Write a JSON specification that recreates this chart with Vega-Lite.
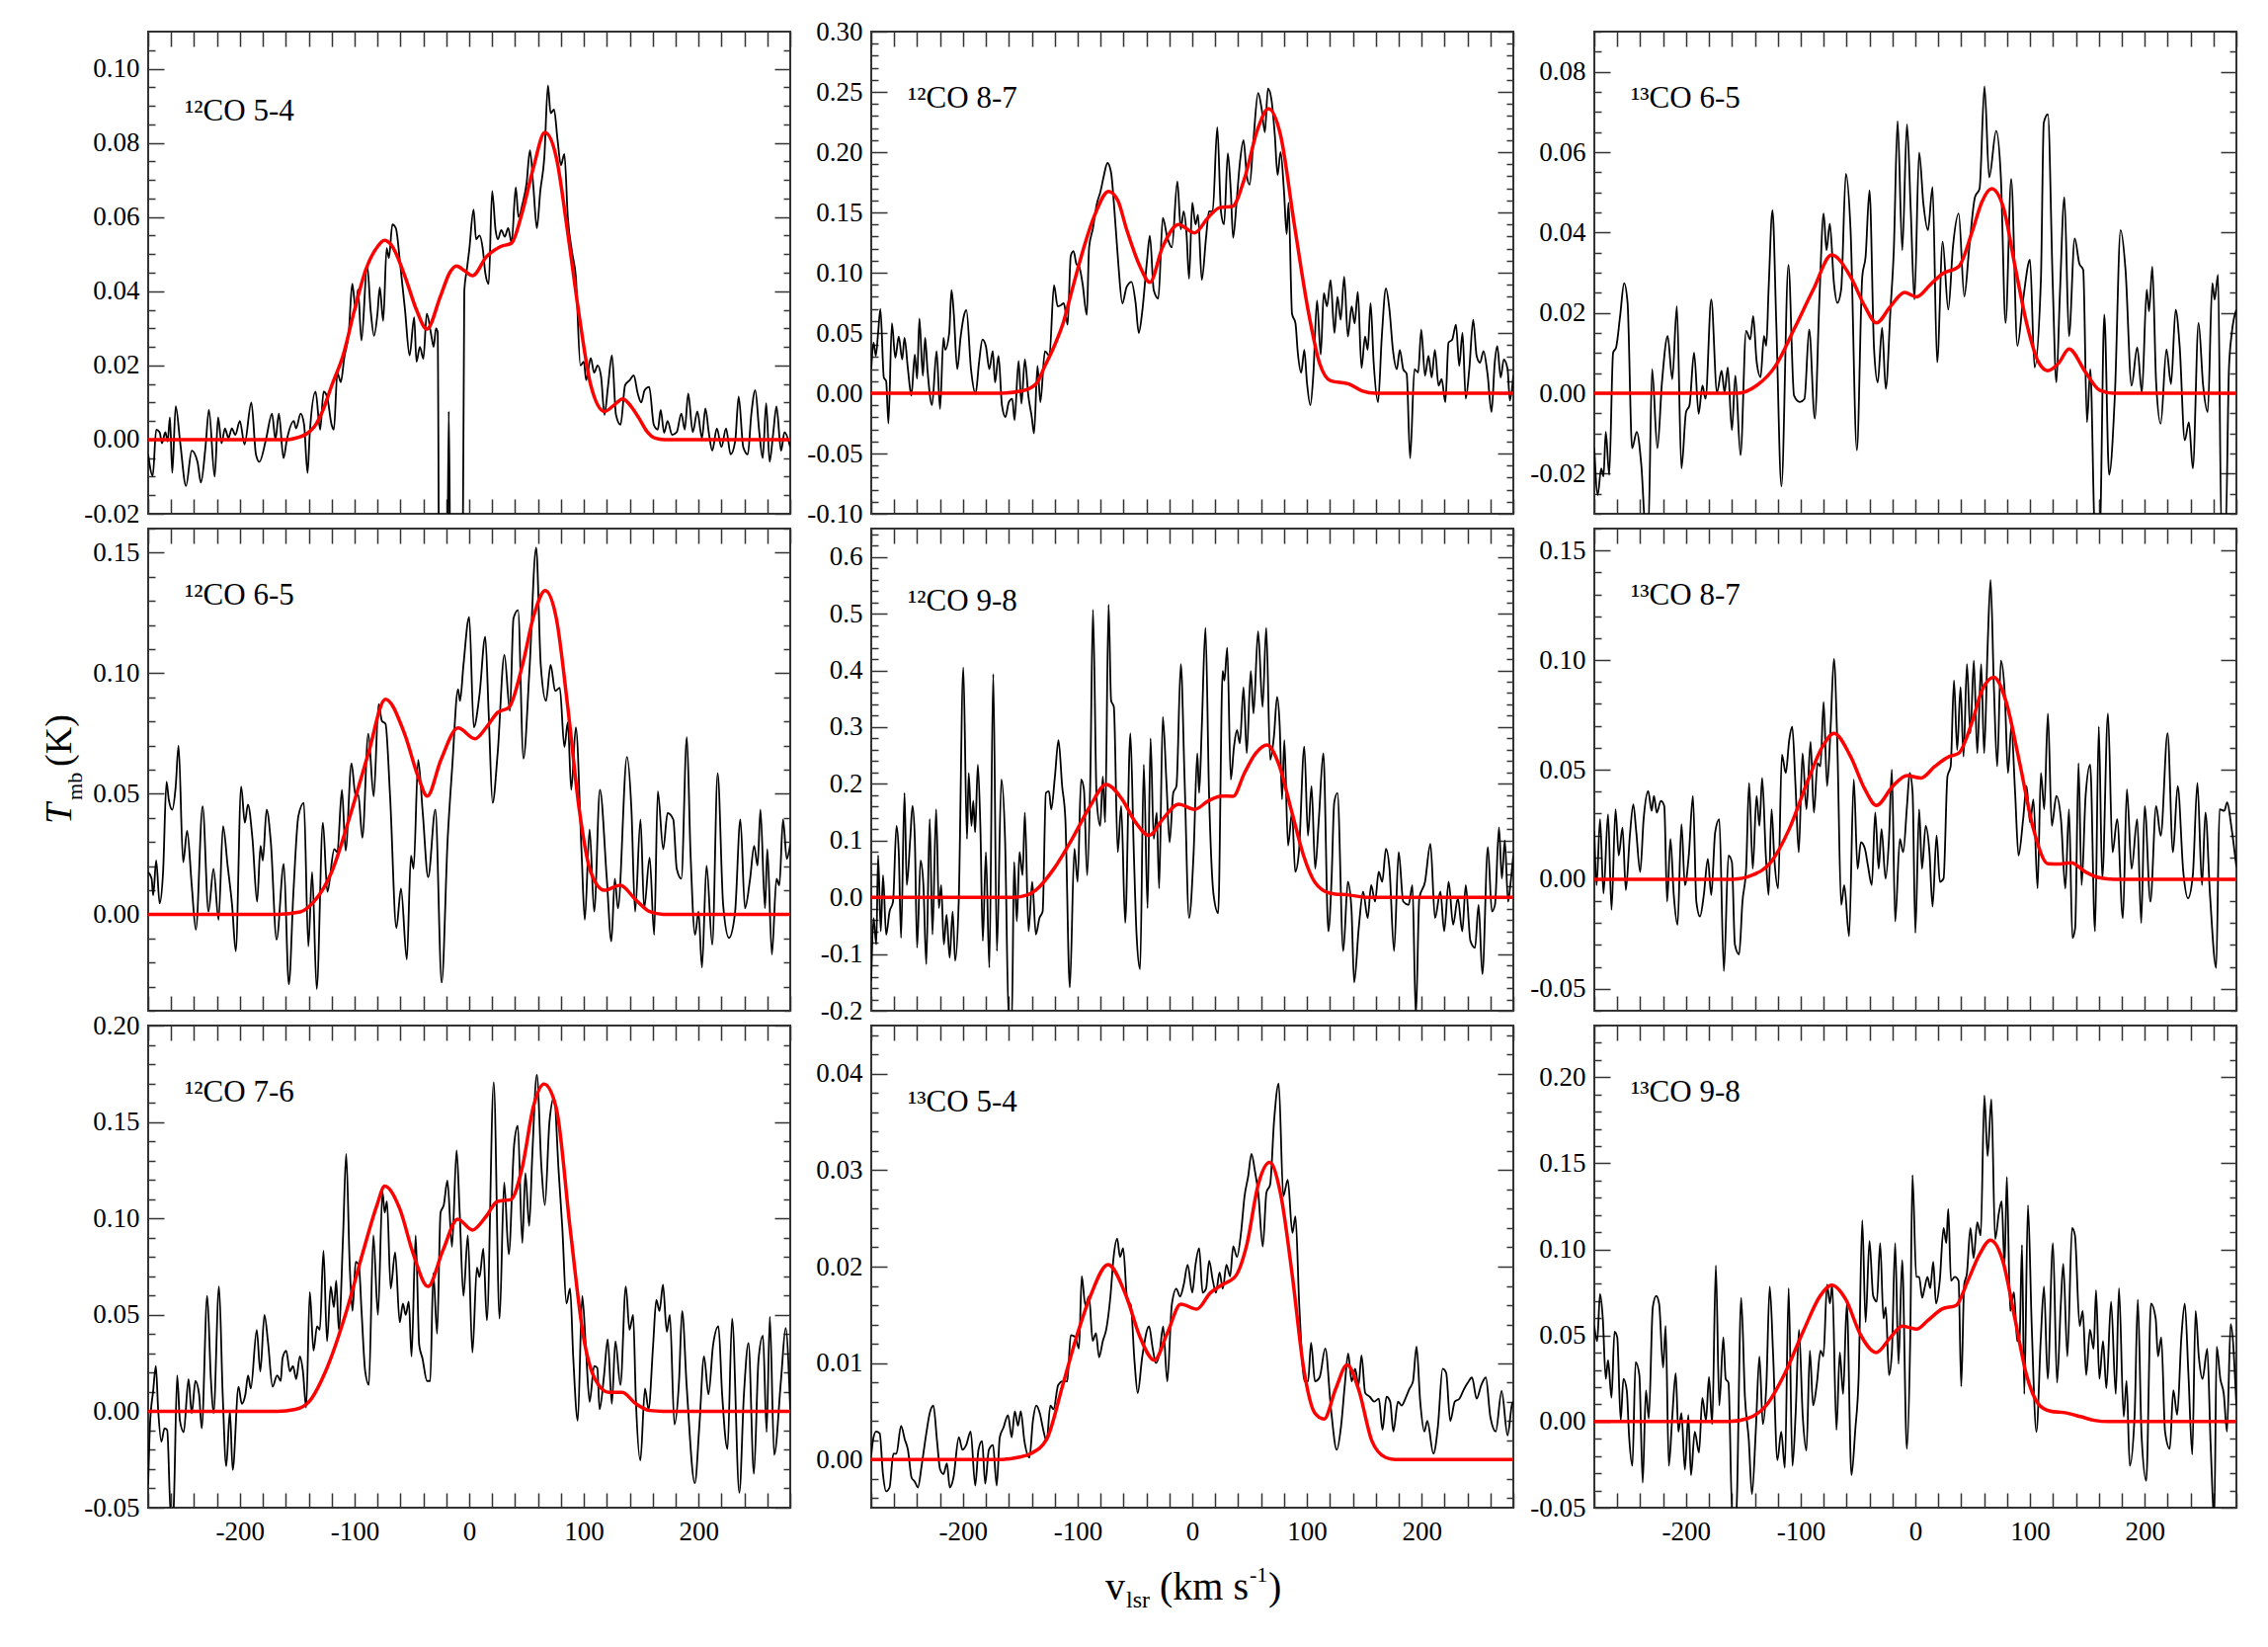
{
"$schema":"https://vega.github.io/schema/vega-lite/v6.json",
"padding":{"left":40,"top":17,"right":5,"bottom":5},
"background":"white",
"bounds":"flush",
"columns":3,
"spacing":{"row":15,"column":82},
"config":{
 "view":{"stroke":"#333","strokeWidth":2},
 "font":"Liberation Serif",
 "axis":{"labelFont":"Liberation Serif","labelFontSize":27,"labelColor":"#000","tickColor":"#333","tickWidth":1.5,"domain":false,"grid":false,"labelOverlap":false,"labelFlush":false},
 "title":{"font":"Liberation Serif","fontSize":31,"fontWeight":"normal","color":"#000"}
},
"datasets":{
"b1":[{"v":-280,"t":-0.004},{"v":-276,"t":-0.0098},{"v":-273,"t":0.0027},{"v":-270,"t":0.002},{"v":-268,"t":-0.001},{"v":-265,"t":0.002},{"v":-263,"t":-0.0005},{"v":-261,"t":0.006},{"v":-259,"t":-0.009},{"v":-256,"t":0.009},{"v":-252,"t":-0.001},{"v":-247,"t":-0.0125},{"v":-242,"t":-0.003},{"v":-237,"t":-0.006},{"v":-234,"t":-0.0116},{"v":-230,"t":-0.002},{"v":-227,"t":0.008},{"v":-222,"t":-0.01},{"v":-219,"t":0.006},{"v":-216,"t":-0.001},{"v":-213,"t":0.003},{"v":-210,"t":0.0004},{"v":-207,"t":0.003},{"v":-204,"t":0.0013},{"v":-200,"t":0.005},{"v":-196,"t":-0.0013},{"v":-190,"t":0.01},{"v":-186,"t":-0.004},{"v":-183,"t":-0.006},{"v":-177,"t":0.0004},{"v":-172,"t":0.007},{"v":-169,"t":0},{"v":-166,"t":0.007},{"v":-162,"t":-0.005},{"v":-159,"t":0},{"v":-153,"t":0.005},{"v":-151,"t":0.003},{"v":-147,"t":0.007},{"v":-144,"t":0.004},{"v":-141,"t":-0.009},{"v":-139,"t":0.002},{"v":-134,"t":0.0129},{"v":-130,"t":0.0027},{"v":-127,"t":0.0129},{"v":-124,"t":0.0116},{"v":-120,"t":0.004},{"v":-118,"t":0.0027},{"v":-115,"t":0.018},{"v":-112,"t":0.0155},{"v":-109,"t":0.022},{"v":-105,"t":0.029},{"v":-102,"t":0.042},{"v":-99,"t":0.035},{"v":-97,"t":0.0405},{"v":-94,"t":0.0267},{"v":-89,"t":0.047},{"v":-86,"t":0.035},{"v":-83,"t":0.028},{"v":-80,"t":0.034},{"v":-78,"t":0.041},{"v":-75,"t":0.032},{"v":-72,"t":0.0516},{"v":-70,"t":0.049},{"v":-67,"t":0.058},{"v":-64,"t":0.057},{"v":-60,"t":0.0467},{"v":-56,"t":0.035},{"v":-52,"t":0.0227},{"v":-48,"t":0.033},{"v":-46,"t":0.021},{"v":-43,"t":0.025},{"v":-40,"t":0.0218},{"v":-37,"t":0.034},{"v":-33,"t":0.028},{"v":-31,"t":0.025},{"v":-29,"t":0.03},{"v":-27.5,"t":0.029},{"v":-26,"t":-0.05},{"v":-19.5,"t":-0.05},{"v":-17.8,"t":0.0076},{"v":-16,"t":-0.05},{"v":-6,"t":-0.05},{"v":-4.3,"t":0.04},{"v":-2,"t":0.046},{"v":0,"t":0.051},{"v":3.8,"t":0.062},{"v":6,"t":0.054},{"v":9,"t":0.055},{"v":12,"t":0.051},{"v":14,"t":0.045},{"v":17,"t":0.042},{"v":20,"t":0.067},{"v":23,"t":0.0565},{"v":25,"t":0.054},{"v":28,"t":0.0565},{"v":31,"t":0.0547},{"v":34,"t":0.057},{"v":37,"t":0.053},{"v":40.6,"t":0.068},{"v":43,"t":0.06},{"v":46.5,"t":0.0636},{"v":50,"t":0.069},{"v":53,"t":0.078},{"v":56,"t":0.068},{"v":59,"t":0.057},{"v":62,"t":0.067},{"v":65.5,"t":0.076},{"v":68.7,"t":0.0955},{"v":71,"t":0.088},{"v":74,"t":0.089},{"v":77,"t":0.081},{"v":80,"t":0.074},{"v":83,"t":0.077},{"v":86,"t":0.06},{"v":90,"t":0.05},{"v":93,"t":0.044},{"v":97,"t":0.02},{"v":100,"t":0.021},{"v":102,"t":0.016},{"v":106,"t":0.022},{"v":109,"t":0.018},{"v":112,"t":0.02},{"v":115,"t":0.017},{"v":118,"t":0.0067},{"v":121,"t":0.0142},{"v":124.5,"t":0.0227},{"v":128,"t":0.0067},{"v":132,"t":0.004},{"v":136,"t":0.0147},{"v":140,"t":0.016},{"v":143.5,"t":0.0173},{"v":147,"t":0.0124},{"v":150,"t":0.01},{"v":153,"t":0.0133},{"v":157,"t":0.0142},{"v":161,"t":0.004},{"v":164.5,"t":0.0027},{"v":167,"t":0.008},{"v":170,"t":0.0018},{"v":173,"t":0.005},{"v":177,"t":0.0013},{"v":181,"t":0.002},{"v":185,"t":0.007},{"v":188,"t":0.0027},{"v":191,"t":0.0124},{"v":195,"t":0.002},{"v":199,"t":0.0076},{"v":203,"t":0.0004},{"v":206,"t":0.0084},{"v":209,"t":0.0018},{"v":212,"t":-0.003},{"v":216,"t":0.003},{"v":220,"t":-0.002},{"v":224,"t":0.003},{"v":228,"t":-0.004},{"v":232,"t":-0.0004},{"v":235,"t":0.0116},{"v":239,"t":-0.002},{"v":243,"t":-0.004},{"v":246,"t":0.0067},{"v":249.5,"t":0.0133},{"v":253,"t":0.002},{"v":256,"t":-0.005},{"v":259,"t":0.0098},{"v":262,"t":-0.006},{"v":265,"t":0.0013},{"v":268,"t":0.0089},{"v":272,"t":-0.003},{"v":275,"t":0.002},{"v":280,"t":-0.002}],
"m1":[{"v":-280,"t":0},{"v":-158,"t":0},{"v":-150,"t":0.0005},{"v":-142,"t":0.0015},{"v":-135,"t":0.0035},{"v":-128,"t":0.0076},{"v":-120,"t":0.0145},{"v":-110,"t":0.0227},{"v":-100,"t":0.035},{"v":-90,"t":0.046},{"v":-80,"t":0.052},{"v":-74,"t":0.0537},{"v":-68,"t":0.0525},{"v":-56,"t":0.044},{"v":-46,"t":0.035},{"v":-37,"t":0.0298},{"v":-25,"t":0.0387},{"v":-17,"t":0.045},{"v":-11,"t":0.0468},{"v":-4,"t":0.0455},{"v":3,"t":0.0442},{"v":15,"t":0.0493},{"v":27,"t":0.052},{"v":37,"t":0.053},{"v":46,"t":0.061},{"v":56,"t":0.0733},{"v":66,"t":0.0828},{"v":76,"t":0.076},{"v":86,"t":0.0556},{"v":96,"t":0.0333},{"v":106,"t":0.0147},{"v":118,"t":0.0076},{"v":126,"t":0.0092},{"v":134,"t":0.011},{"v":141,"t":0.009},{"v":148,"t":0.0058},{"v":155,"t":0.0022},{"v":162,"t":0.0004},{"v":170,"t":0},{"v":280,"t":0}],
"b2":[{"v":-280,"t":0.02},{"v":-278,"t":0.042},{"v":-276,"t":0.031},{"v":-274,"t":0.05},{"v":-272,"t":0.07},{"v":-269,"t":0.013},{"v":-267,"t":0.01},{"v":-265,"t":-0.025},{"v":-262,"t":0.058},{"v":-259,"t":0.0295},{"v":-256,"t":0.047},{"v":-253,"t":0.028},{"v":-251,"t":0.046},{"v":-248,"t":0.02},{"v":-245,"t":-0.002},{"v":-242,"t":0.032},{"v":-240,"t":0.012},{"v":-238,"t":0.062},{"v":-235,"t":0.0145},{"v":-233,"t":0.046},{"v":-231,"t":0.02},{"v":-227,"t":-0.01},{"v":-223,"t":0.035},{"v":-220,"t":-0.013},{"v":-217,"t":0.046},{"v":-215.5,"t":0.036},{"v":-212,"t":0.05},{"v":-210,"t":0.0855},{"v":-208,"t":0.066},{"v":-205,"t":0.02},{"v":-202,"t":0.047},{"v":-199,"t":0.065},{"v":-197,"t":0.069},{"v":-193,"t":0.02},{"v":-189,"t":-0.0005},{"v":-186,"t":0.0254},{"v":-183,"t":0.0445},{"v":-180,"t":0.039},{"v":-177,"t":0.02},{"v":-174,"t":0.035},{"v":-172,"t":0.009},{"v":-169,"t":0.031},{"v":-166,"t":-0.01},{"v":-163,"t":-0.0197},{"v":-160,"t":-0.0074},{"v":-157,"t":-0.0046},{"v":-155,"t":-0.0224},{"v":-151.5,"t":0.0268},{"v":-149,"t":-0.0087},{"v":-146,"t":0.028},{"v":-143,"t":-0.002},{"v":-140,"t":-0.0197},{"v":-138,"t":-0.0333},{"v":-135,"t":0.0227},{"v":-132.5,"t":-0.0074},{"v":-128.5,"t":0.035},{"v":-124.6,"t":0.031},{"v":-120.6,"t":0.0896},{"v":-117.4,"t":0.072},{"v":-114.7,"t":0.073},{"v":-112,"t":0.0746},{"v":-108.7,"t":0.0568},{"v":-106,"t":0.114},{"v":-103.6,"t":0.118},{"v":-101,"t":0.107},{"v":-98.5,"t":0.1046},{"v":-95.7,"t":0.091},{"v":-92,"t":0.065},{"v":-90,"t":0.121},{"v":-86.6,"t":0.137},{"v":-83.4,"t":0.1565},{"v":-80,"t":0.1675},{"v":-77,"t":0.181},{"v":-74,"t":0.191},{"v":-71,"t":0.184},{"v":-67,"t":0.14},{"v":-64.5,"t":0.1074},{"v":-61,"t":0.0746},{"v":-57.3,"t":0.088},{"v":-53,"t":0.0923},{"v":-49.4,"t":0.0746},{"v":-46.7,"t":0.05},{"v":-43.5,"t":0.069},{"v":-39.5,"t":0.11},{"v":-37,"t":0.1306},{"v":-33.6,"t":0.0855},{"v":-29.6,"t":0.0787},{"v":-25.7,"t":0.1456},{"v":-21.7,"t":0.129},{"v":-17.8,"t":0.121},{"v":-13,"t":0.1757},{"v":-10,"t":0.136},{"v":-7.5,"t":0.151},{"v":-5,"t":0.132},{"v":-2.8,"t":0.095},{"v":0,"t":0.158},{"v":2.8,"t":0.14},{"v":5,"t":0.148},{"v":8.3,"t":0.094},{"v":12,"t":0.129},{"v":14.6,"t":0.151},{"v":17.8,"t":0.151},{"v":21.8,"t":0.2207},{"v":25,"t":0.151},{"v":27.7,"t":0.14},{"v":31,"t":0.199},{"v":33.6,"t":0.1675},{"v":35.6,"t":0.129},{"v":38.8,"t":0.1606},{"v":41.6,"t":0.192},{"v":44.7,"t":0.21},{"v":47.5,"t":0.181},{"v":50,"t":0.173},{"v":53.4,"t":0.211},{"v":57.4,"t":0.249},{"v":60.5,"t":0.236},{"v":63.3,"t":0.2166},{"v":66,"t":0.2527},{"v":69,"t":0.244},{"v":72,"t":0.214},{"v":74.4,"t":0.181},{"v":77,"t":0.2},{"v":80,"t":0.1675},{"v":82.3,"t":0.132},{"v":84,"t":0.158},{"v":87,"t":0.066},{"v":90,"t":0.058},{"v":92,"t":0.034},{"v":95,"t":0.017},{"v":97.7,"t":0.036},{"v":100,"t":0.009},{"v":103,"t":-0.01},{"v":105.6,"t":0.016},{"v":108.8,"t":0.077},{"v":112,"t":0.032},{"v":114.7,"t":0.083},{"v":117.5,"t":0.072},{"v":120.6,"t":0.094},{"v":124,"t":0.05},{"v":126.6,"t":0.08},{"v":129.4,"t":0.061},{"v":132.5,"t":0.0965},{"v":135.7,"t":0.047},{"v":139,"t":0.072},{"v":141.6,"t":0.058},{"v":144.4,"t":0.084},{"v":147.6,"t":0.021},{"v":150.7,"t":0.047},{"v":153,"t":0.036},{"v":155.5,"t":0.0746},{"v":158.2,"t":0.0254},{"v":162,"t":-0.0074},{"v":165.3,"t":0.047},{"v":168.9,"t":0.0869},{"v":172,"t":0.069},{"v":175,"t":0.036},{"v":178.4,"t":0.02},{"v":181,"t":0.036},{"v":184,"t":0.02},{"v":187,"t":0.016},{"v":190,"t":-0.054},{"v":193.8,"t":0.02},{"v":197,"t":0.0172},{"v":199.7,"t":0.0527},{"v":203,"t":0.0145},{"v":206,"t":0.031},{"v":208.8,"t":0.013},{"v":211.6,"t":0.036},{"v":214.8,"t":0.0063},{"v":217.5,"t":0.0117},{"v":220.7,"t":-0.0074},{"v":223.5,"t":0.042},{"v":226.7,"t":0.0445},{"v":230,"t":0.0568},{"v":232.8,"t":0.0227},{"v":235.7,"t":0.05},{"v":238.5,"t":-0.0046},{"v":241.6,"t":0.02},{"v":245,"t":0.061},{"v":248,"t":0.031},{"v":251,"t":0.0254},{"v":254,"t":0.035},{"v":257.5,"t":0.016},{"v":261,"t":-0.0156},{"v":263.8,"t":0.0254},{"v":266,"t":0.039},{"v":269,"t":0.013},{"v":271.7,"t":0.028},{"v":275,"t":0.02},{"v":277,"t":-0.006},{"v":280,"t":0.0145}],
"m2":[{"v":-280,"t":0},{"v":-168,"t":0},{"v":-148,"t":0.002},{"v":-136,"t":0.008},{"v":-128.5,"t":0.0227},{"v":-120,"t":0.04},{"v":-112.7,"t":0.058},{"v":-105,"t":0.085},{"v":-97,"t":0.113},{"v":-85,"t":0.148},{"v":-73,"t":0.1675},{"v":-65,"t":0.16},{"v":-57,"t":0.135},{"v":-45.5,"t":0.105},{"v":-37,"t":0.092},{"v":-26,"t":0.121},{"v":-12,"t":0.14},{"v":2,"t":0.133},{"v":14,"t":0.146},{"v":24,"t":0.154},{"v":35,"t":0.155},{"v":45.5,"t":0.178},{"v":57,"t":0.219},{"v":66.5,"t":0.236},{"v":77,"t":0.214},{"v":89,"t":0.14},{"v":101,"t":0.069},{"v":111,"t":0.025},{"v":120.6,"t":0.0104},{"v":136.5,"t":0.0077},{"v":148,"t":0.002},{"v":160,"t":0},{"v":280,"t":0}],
"b3":[{"v":-280,"t":-0.0137},{"v":-277,"t":-0.0253},{"v":-274,"t":-0.0187},{"v":-272,"t":-0.0207},{"v":-270,"t":-0.0096},{"v":-267,"t":-0.0203},{"v":-263.6,"t":0.0101},{"v":-261,"t":0.0114},{"v":-257.5,"t":0.0192},{"v":-254,"t":0.0274},{"v":-251,"t":0.0225},{"v":-247,"t":-0.0137},{"v":-243,"t":-0.0096},{"v":-239,"t":-0.0179},{"v":-235,"t":-0.035},{"v":-233,"t":-0.035},{"v":-229.6,"t":0.006},{"v":-225,"t":-0.0137},{"v":-221,"t":0.0027},{"v":-216,"t":0.0142},{"v":-212,"t":0.0035},{"v":-208,"t":0.0216},{"v":-204,"t":-0.0187},{"v":-200,"t":-0.0047},{"v":-197,"t":-0.003},{"v":-193,"t":0.0101},{"v":-189,"t":-0.0051},{"v":-185.7,"t":0.0019},{"v":-183,"t":-0.0014},{"v":-178,"t":0.0233},{"v":-173,"t":0.0002},{"v":-169,"t":0.0056},{"v":-166.4,"t":0.0002},{"v":-163.6,"t":0.0064},{"v":-160,"t":-0.0092},{"v":-157,"t":0.0044},{"v":-152.5,"t":-0.0154},{"v":-147.6,"t":0.0155},{"v":-144,"t":0.0134},{"v":-141.4,"t":0.0192},{"v":-138.5,"t":0.0081},{"v":-135,"t":0.004},{"v":-132,"t":0.0142},{"v":-130,"t":0.0118},{"v":-128,"t":0.0258},{"v":-124.6,"t":0.0455},{"v":-121.3,"t":0.0175},{"v":-116.8,"t":-0.0232},{"v":-110.7,"t":0.0319},{"v":-105.8,"t":-0.0006},{"v":-100.8,"t":-0.0022},{"v":-96.7,"t":-0.0014},{"v":-92.6,"t":0.0159},{"v":-87.7,"t":-0.0063},{"v":-83.6,"t":0.0241},{"v":-80,"t":0.0447},{"v":-77.5,"t":0.0356},{"v":-74.6,"t":0.0422},{"v":-71,"t":0.0274},{"v":-68,"t":0.0225},{"v":-64.7,"t":0.0258},{"v":-60.6,"t":0.0546},{"v":-56.5,"t":0.0406},{"v":-51,"t":-0.0142},{"v":-46.3,"t":0.029},{"v":-43.4,"t":0.034},{"v":-40,"t":0.0505},{"v":-36,"t":0.0109},{"v":-32.8,"t":0.0027},{"v":-29,"t":0.0163},{"v":-25.8,"t":0.0011},{"v":-21.7,"t":0.0208},{"v":-18.8,"t":0.0356},{"v":-15.5,"t":0.0677},{"v":-11.4,"t":0.0356},{"v":-7.3,"t":0.0669},{"v":-4,"t":0.0455},{"v":-0.8,"t":0.0233},{"v":3.3,"t":0.0599},{"v":7,"t":0.0472},{"v":11,"t":0.0406},{"v":15,"t":0.0513},{"v":19,"t":0.0077},{"v":23.8,"t":0.0377},{"v":28.7,"t":0.0208},{"v":32.8,"t":0.0365},{"v":37.8,"t":0.0447},{"v":42.7,"t":0.0241},{"v":46.8,"t":0.0356},{"v":52,"t":0.0488},{"v":56,"t":0.0509},{"v":60.3,"t":0.0764},{"v":64.4,"t":0.0537},{"v":70.5,"t":0.0653},{"v":74.6,"t":0.0537},{"v":78.7,"t":0.0175},{"v":83.6,"t":0.0533},{"v":89,"t":0.0118},{"v":94,"t":0.0233},{"v":100,"t":0.0332},{"v":104,"t":0.0064},{"v":109.5,"t":0.0282},{"v":112,"t":0.0673},{"v":115.6,"t":0.0694},{"v":119.8,"t":0.0274},{"v":123,"t":0.0027},{"v":126,"t":0.0241},{"v":130,"t":0.0488},{"v":134,"t":0.0142},{"v":139,"t":0.0385},{"v":143,"t":0.0323},{"v":146.4,"t":0.0307},{"v":149.7,"t":-0.0072},{"v":152.6,"t":0.006},{"v":156.7,"t":-0.035},{"v":160.8,"t":-0.035},{"v":164.8,"t":0.0196},{"v":169,"t":-0.0203},{"v":174,"t":-0.0006},{"v":179,"t":0.0406},{"v":183.3,"t":0.0307},{"v":188.6,"t":0.0019},{"v":193.5,"t":0.0114},{"v":197.6,"t":0.0002},{"v":201.8,"t":0.0258},{"v":203.8,"t":0.0204},{"v":206.7,"t":0.0315},{"v":210,"t":0.0027},{"v":214,"t":-0.0076},{"v":219,"t":0.0109},{"v":223,"t":0.0023},{"v":227,"t":0.0208},{"v":230.5,"t":0.0118},{"v":235,"t":-0.0117},{"v":238.6,"t":-0.0072},{"v":242,"t":-0.0187},{"v":247,"t":0.0175},{"v":251,"t":0.0019},{"v":255,"t":-0.0047},{"v":259,"t":0.0274},{"v":261,"t":0.0233},{"v":264,"t":0.0295},{"v":267,"t":-0.035},{"v":270.6,"t":-0.035},{"v":273.5,"t":0.006},{"v":276,"t":0.015},{"v":280,"t":0.0208}],
"m3":[{"v":-280,"t":0},{"v":-155,"t":0},{"v":-138.5,"t":0.0019},{"v":-122,"t":0.0068},{"v":-105.8,"t":0.0159},{"v":-89,"t":0.0258},{"v":-73,"t":0.0344},{"v":-56.5,"t":0.029},{"v":-44,"t":0.0216},{"v":-34,"t":0.0175},{"v":-21.7,"t":0.0216},{"v":-9.4,"t":0.0251},{"v":1,"t":0.024},{"v":13,"t":0.027},{"v":23.4,"t":0.0297},{"v":37.8,"t":0.0315},{"v":50,"t":0.0406},{"v":58,"t":0.0476},{"v":66.5,"t":0.0509},{"v":76.7,"t":0.0463},{"v":87,"t":0.0315},{"v":97,"t":0.0175},{"v":107.5,"t":0.0077},{"v":115.6,"t":0.0056},{"v":125,"t":0.0075},{"v":134,"t":0.011},{"v":148.5,"t":0.0052},{"v":161,"t":0.0007},{"v":173,"t":0},{"v":280,"t":0}],
"b4":[{"v":-280,"t":0.0175},{"v":-277,"t":0.0148},{"v":-275.6,"t":0.0079},{"v":-273,"t":0.0223},{"v":-270,"t":0.0045},{"v":-267,"t":0.0175},{"v":-264,"t":0.055},{"v":-262,"t":0.0475},{"v":-259,"t":0.0434},{"v":-256,"t":0.053},{"v":-253.5,"t":0.07},{"v":-249.5,"t":0.0216},{"v":-246,"t":0.0346},{"v":-242,"t":0.012},{"v":-238.4,"t":-0.0064},{"v":-232.5,"t":0.0448},{"v":-227.4,"t":0.0011},{"v":-223,"t":0.0189},{"v":-218.6,"t":-0.0023},{"v":-214.7,"t":0.0366},{"v":-210.7,"t":0.0202},{"v":-206.8,"t":0.0038},{"v":-203.6,"t":-0.0153},{"v":-198.9,"t":0.053},{"v":-195.7,"t":0.038},{"v":-193,"t":0.0455},{"v":-189,"t":0.0311},{"v":-185,"t":0.0052},{"v":-182,"t":0.0284},{"v":-180,"t":0.0223},{"v":-176.7,"t":0.0434},{"v":-173,"t":0.0298},{"v":-168,"t":-0.0105},{"v":-161.7,"t":0.0209},{"v":-157.3,"t":-0.029},{"v":-153.3,"t":0.0093},{"v":-149,"t":0.0407},{"v":-144.2,"t":0.0462},{"v":-140.3,"t":-0.0133},{"v":-137,"t":0.0175},{"v":-133,"t":-0.031},{"v":-127.6,"t":0.038},{"v":-123.7,"t":0.0093},{"v":-117.7,"t":0.027},{"v":-115,"t":0.0257},{"v":-111,"t":0.0516},{"v":-107.8,"t":0.0264},{"v":-102.7,"t":0.0626},{"v":-99,"t":0.0489},{"v":-96.7,"t":0.0496},{"v":-93.2,"t":0.0318},{"v":-88,"t":0.0749},{"v":-83.3,"t":0.0489},{"v":-79,"t":0.0872},{"v":-76.2,"t":0.0803},{"v":-73,"t":0.079},{"v":-69,"t":0.0489},{"v":-63.5,"t":-0.0057},{"v":-59.5,"t":0.0107},{"v":-54.4,"t":-0.0187},{"v":-50.8,"t":0.0243},{"v":-48.5,"t":0.0189},{"v":-44.5,"t":0.064},{"v":-40.5,"t":0.042},{"v":-35.8,"t":0.0154},{"v":-29.5,"t":0.0434},{"v":-24,"t":-0.0283},{"v":-18.8,"t":0.0311},{"v":-14.8,"t":0.0612},{"v":-9.7,"t":0.0933},{"v":-8,"t":0.0885},{"v":-5,"t":0.1035},{"v":0,"t":0.1234},{"v":4,"t":0.0776},{"v":9,"t":0.0912},{"v":14,"t":0.1152},{"v":17,"t":0.0831},{"v":20.4,"t":0.0462},{"v":24.8,"t":0.0667},{"v":30.7,"t":0.1076},{"v":35.5,"t":0.0844},{"v":38.6,"t":0.1227},{"v":42.6,"t":0.1261},{"v":47.3,"t":0.0646},{"v":52.5,"t":0.1008},{"v":58.4,"t":0.152},{"v":62.4,"t":0.1035},{"v":67,"t":0.0885},{"v":71,"t":0.1035},{"v":75,"t":0.0926},{"v":79,"t":0.094},{"v":83,"t":0.0694},{"v":86,"t":0.0796},{"v":89,"t":0.0516},{"v":93,"t":0.0776},{"v":98,"t":0.0257},{"v":100.8,"t":-0.0023},{"v":105,"t":0.0352},{"v":109,"t":0.0011},{"v":114,"t":0.0516},{"v":120,"t":0.0148},{"v":124,"t":-0.0112},{"v":127,"t":0.0148},{"v":129.7,"t":0.0025},{"v":137.6,"t":0.0653},{"v":141.5,"t":0.0434},{"v":144.7,"t":0.0011},{"v":149.4,"t":0.0393},{"v":152.6,"t":0.0025},{"v":157.4,"t":0.0236},{"v":161.3,"t":-0.0085},{"v":164.5,"t":0.051},{"v":169.2,"t":0.027},{"v":173,"t":0.042},{"v":178,"t":0.0393},{"v":181,"t":0.0189},{"v":185,"t":0.0148},{"v":189.8,"t":0.0735},{"v":193,"t":0.0257},{"v":197,"t":-0.0085},{"v":200,"t":0.0011},{"v":203,"t":-0.0221},{"v":207,"t":0.0202},{"v":212,"t":-0.0126},{"v":216.7,"t":0.0585},{"v":221.5,"t":0.0038},{"v":226.6,"t":-0.0098},{"v":231.8,"t":0.0004},{"v":236.5,"t":0.0393},{"v":240.5,"t":0.0025},{"v":245,"t":0.0148},{"v":248.5,"t":0.0284},{"v":251.5,"t":0.0202},{"v":254,"t":0.0434},{"v":258,"t":0.0025},{"v":260,"t":0.027},{"v":264,"t":-0.0167},{"v":268,"t":0.0148},{"v":270.5,"t":0.012},{"v":273.7,"t":0.0393},{"v":277,"t":0.023},{"v":280,"t":0.029}],
"m4":[{"v":-280,"t":0},{"v":-167,"t":0},{"v":-147.4,"t":0.001},{"v":-135.5,"t":0.0052},{"v":-120,"t":0.0175},{"v":-104,"t":0.0407},{"v":-88,"t":0.0667},{"v":-73,"t":0.0892},{"v":-56.4,"t":0.0749},{"v":-44.5,"t":0.0571},{"v":-36.6,"t":0.049},{"v":-24.7,"t":0.064},{"v":-9.7,"t":0.0773},{"v":5,"t":0.0728},{"v":15,"t":0.0776},{"v":24.8,"t":0.0837},{"v":34.7,"t":0.0858},{"v":46.5,"t":0.1035},{"v":56.4,"t":0.124},{"v":66.3,"t":0.1343},{"v":76,"t":0.1227},{"v":86,"t":0.0858},{"v":96,"t":0.0434},{"v":106,"t":0.0175},{"v":117.8,"t":0.01},{"v":131.6,"t":0.012},{"v":145.5,"t":0.0059},{"v":157.4,"t":0.0011},{"v":169,"t":0},{"v":280,"t":0}],
"b5":[{"v":-280,"t":-0.147},{"v":-278,"t":-0.0366},{"v":-275.6,"t":-0.083},{"v":-274,"t":0.074},{"v":-271.7,"t":-0.06},{"v":-269.7,"t":0.039},{"v":-267,"t":-0.066},{"v":-264,"t":-0.025},{"v":-261,"t":-0.0076},{"v":-258,"t":0.126},{"v":-256,"t":0.0797},{"v":-254,"t":-0.0715},{"v":-251,"t":0.184},{"v":-249,"t":0.0215},{"v":-246,"t":0.103},{"v":-244,"t":0.161},{"v":-242,"t":0.103},{"v":-240,"t":-0.089},{"v":-237,"t":0.065},{"v":-234.5,"t":0.0215},{"v":-232,"t":-0.118},{"v":-229,"t":0.138},{"v":-226.6,"t":-0.0657},{"v":-223.4,"t":0.155},{"v":-221,"t":-0.0192},{"v":-219,"t":0.0215},{"v":-216.7,"t":-0.083},{"v":-214.3,"t":-0.031},{"v":-211.6,"t":-0.1064},{"v":-209,"t":-0.025},{"v":-206.8,"t":-0.112},{"v":-203.7,"t":-0.0076},{"v":-199.7,"t":0.405},{"v":-196.5,"t":0.103},{"v":-195,"t":0.219},{"v":-192.6,"t":0.126},{"v":-191,"t":0.17},{"v":-189.4,"t":0.1145},{"v":-187,"t":0.2337},{"v":-184.7,"t":0.1145},{"v":-182.7,"t":-0.077},{"v":-180,"t":0.0797},{"v":-177,"t":-0.124},{"v":-173.6,"t":0.3936},{"v":-170.4,"t":-0.0948},{"v":-166.5,"t":0.2076},{"v":-163.3,"t":0.103},{"v":-160,"t":-0.22},{"v":-157.4,"t":-0.22},{"v":-155.4,"t":0.0622},{"v":-153,"t":-0.0424},{"v":-150.7,"t":0.0797},{"v":-148,"t":0.039},{"v":-146,"t":0.1494},{"v":-142.8,"t":-0.06},{"v":-139.6,"t":0.0273},{"v":-136.4,"t":-0.0657},{"v":-133.3,"t":-0.0366},{"v":-130.5,"t":-0.025},{"v":-127.7,"t":0.184},{"v":-125,"t":0.187},{"v":-123,"t":0.155},{"v":-119.8,"t":0.213},{"v":-116.7,"t":0.277},{"v":-113.5,"t":0.196},{"v":-110.7,"t":0.138},{"v":-106.8,"t":-0.159},{"v":-102.8,"t":0.0855},{"v":-100,"t":0.0273},{"v":-97,"t":0.2076},{"v":-94.5,"t":0.19},{"v":-91.7,"t":0.039},{"v":-89,"t":0.202},{"v":-86.6,"t":0.507},{"v":-83.4,"t":0.1727},{"v":-80.3,"t":0.126},{"v":-78,"t":0.213},{"v":-76,"t":0.132},{"v":-73,"t":0.516},{"v":-70.8,"t":0.347},{"v":-68.4,"t":0.3355},{"v":-65,"t":0.0797},{"v":-62,"t":0.161},{"v":-58.5,"t":-0.045},{"v":-54,"t":0.289},{"v":-51,"t":0.0797},{"v":-48.6,"t":-0.0657},{"v":-45.5,"t":-0.1267},{"v":-42.3,"t":0.2337},{"v":-39,"t":-0.0192},{"v":-36.4,"t":0.28},{"v":-33.6,"t":0.103},{"v":-31,"t":0.1494},{"v":-28.9,"t":0.0157},{"v":-25.7,"t":0.318},{"v":-22.5,"t":0.2017},{"v":-19.8,"t":0.097},{"v":-16.6,"t":0.184},{"v":-13.8,"t":0.196},{"v":-10,"t":0.411},{"v":-6.7,"t":0.2076},{"v":-2.8,"t":-0.0366},{"v":1.2,"t":0.0797},{"v":4.4,"t":0.254},{"v":6,"t":0.184},{"v":8.3,"t":0.3},{"v":11.5,"t":0.475},{"v":14.6,"t":0.184},{"v":18.6,"t":0.004},{"v":22.6,"t":-0.028},{"v":26.5,"t":0.399},{"v":28,"t":0.382},{"v":30.5,"t":0.44},{"v":33.6,"t":0.2076},{"v":36.4,"t":0.2657},{"v":39,"t":0.295},{"v":41.5,"t":0.2715},{"v":44.7,"t":0.37},{"v":47.5,"t":0.254},{"v":51,"t":0.399},{"v":53.4,"t":0.324},{"v":57.4,"t":0.469},{"v":61.3,"t":0.3355},{"v":64.5,"t":0.475},{"v":68,"t":0.2424},{"v":71.2,"t":0.283},{"v":74,"t":0.353},{"v":76.3,"t":0.3},{"v":78.3,"t":0.1727},{"v":80.3,"t":0.277},{"v":83.5,"t":0.091},{"v":87,"t":0.1494},{"v":89.8,"t":0.0448},{"v":93,"t":0.0797},{"v":97.7,"t":0.2657},{"v":100.9,"t":0.1087},{"v":104,"t":0.196},{"v":107.2,"t":0.0506},{"v":110.4,"t":0.138},{"v":114.3,"t":0.254},{"v":118.7,"t":-0.06},{"v":121.4,"t":0.0273},{"v":123.8,"t":0.167},{"v":126.6,"t":0.184},{"v":131.7,"t":-0.0948},{"v":135.7,"t":0.0273},{"v":138.8,"t":-0.0192},{"v":141.2,"t":-0.15},{"v":145.2,"t":-0.054},{"v":149,"t":0.0099},{"v":153,"t":-0.0366},{"v":156,"t":0.0215},{"v":159.4,"t":-0.0076},{"v":162.6,"t":0.0448},{"v":165.7,"t":0.0273},{"v":168.9,"t":0.0855},{"v":172,"t":0.0506},{"v":176,"t":-0.0948},{"v":180,"t":0.0797},{"v":184,"t":-0.0076},{"v":188.7,"t":-0.0134},{"v":192,"t":0.0215},{"v":195,"t":-0.21},{"v":198,"t":-0.0017},{"v":203,"t":0.0273},{"v":207.7,"t":0.094},{"v":211.7,"t":-0.0366},{"v":216.4,"t":0.0099},{"v":219.7,"t":-0.06},{"v":223.6,"t":0.0273},{"v":227.5,"t":-0.0483},{"v":231.6,"t":-0.0017},{"v":235.5,"t":-0.06},{"v":238.5,"t":0.0215},{"v":242.6,"t":-0.077},{"v":246.6,"t":-0.089},{"v":249.7,"t":-0.0134},{"v":253,"t":-0.1355},{"v":257.8,"t":0.0884},{"v":261.3,"t":-0.025},{"v":264,"t":-0.0134},{"v":267.5,"t":0.1233},{"v":270,"t":0.0331},{"v":272.6,"t":0.1},{"v":275.4,"t":-0.0076},{"v":277.4,"t":0.0215},{"v":280,"t":0.074}],
"m5":[{"v":-280,"t":0},{"v":-156,"t":0},{"v":-144,"t":0.004},{"v":-136.4,"t":0.0128},{"v":-120.6,"t":0.0506},{"v":-104.8,"t":0.103},{"v":-89,"t":0.161},{"v":-75,"t":0.199},{"v":-61.3,"t":0.173},{"v":-49.4,"t":0.132},{"v":-37.6,"t":0.109},{"v":-25.7,"t":0.138},{"v":-11.9,"t":0.164},{"v":2,"t":0.155},{"v":14,"t":0.17},{"v":25.7,"t":0.1785},{"v":35.6,"t":0.178},{"v":45.5,"t":0.219},{"v":55.4,"t":0.254},{"v":65.3,"t":0.2686},{"v":75,"t":0.237},{"v":87,"t":0.149},{"v":97,"t":0.074},{"v":106.8,"t":0.027},{"v":120.6,"t":0.007},{"v":136.5,"t":0.004},{"v":152,"t":0},{"v":280,"t":0}],
"b6":[{"v":-280,"t":0.0221},{"v":-278,"t":-0.0027},{"v":-275,"t":0.0274},{"v":-272,"t":-0.0065},{"v":-268,"t":0.0297},{"v":-265,"t":-0.014},{"v":-261.5,"t":0.0319},{"v":-258.7,"t":0.0108},{"v":-255.4,"t":0.0236},{"v":-252.5,"t":-0.005},{"v":-249,"t":0.0199},{"v":-246,"t":0.0342},{"v":-243.5,"t":0.0221},{"v":-240,"t":0.0033},{"v":-237,"t":0.0274},{"v":-233,"t":0.0402},{"v":-230,"t":0.0312},{"v":-228,"t":0.038},{"v":-225.5,"t":0.0304},{"v":-222,"t":0.0357},{"v":-219,"t":0.0334},{"v":-216.5,"t":-0.0102},{"v":-213.6,"t":0.0184},{"v":-210.7,"t":-0.0072},{"v":-207.4,"t":-0.0208},{"v":-204,"t":0.0251},{"v":-201,"t":-0.0027},{"v":-197.6,"t":0.0108},{"v":-194,"t":0.038},{"v":-191,"t":-0.0102},{"v":-187.8,"t":-0.017},{"v":-184.5,"t":-0.0072},{"v":-181,"t":0.0093},{"v":-178,"t":-0.0072},{"v":-174.6,"t":0.0214},{"v":-171,"t":0.0274},{"v":-167,"t":-0.0419},{"v":-163,"t":0.0108},{"v":-160,"t":0.0078},{"v":-157.4,"t":-0.0298},{"v":-153.7,"t":-0.0343},{"v":-150.8,"t":-0.0102},{"v":-147.6,"t":0.0048},{"v":-145,"t":0.044},{"v":-141.8,"t":0.0048},{"v":-138.5,"t":0.038},{"v":-136,"t":0.0244},{"v":-133.6,"t":0.0462},{"v":-130.4,"t":0.0108},{"v":-128,"t":-0.0072},{"v":-125.4,"t":0.0319},{"v":-123,"t":0.0093},{"v":-119.7,"t":-0.0042},{"v":-116.4,"t":0.0568},{"v":-113,"t":0.0485},{"v":-110,"t":0.0636},{"v":-107.4,"t":0.0696},{"v":-104.5,"t":0.0425},{"v":-101.7,"t":0.0123},{"v":-98.4,"t":0.0575},{"v":-95,"t":0.0319},{"v":-91.4,"t":0.0628},{"v":-88.5,"t":0.0304},{"v":-85.3,"t":0.053},{"v":-82.8,"t":0.0515},{"v":-80,"t":0.0809},{"v":-77,"t":0.0425},{"v":-74,"t":0.0681},{"v":-71,"t":0.1005},{"v":-68,"t":0.0605},{"v":-64.7,"t":-0.0117},{"v":-62,"t":-0.0027},{"v":-57.8,"t":-0.026},{"v":-53.7,"t":0.0455},{"v":-50.4,"t":0.0048},{"v":-47.5,"t":0.0169},{"v":-44,"t":0.0139},{"v":-41.4,"t":0.0063},{"v":-38,"t":-0.0027},{"v":-35,"t":0.0304},{"v":-32,"t":0.0048},{"v":-29.5,"t":0.0229},{"v":-26,"t":0.0003},{"v":-23,"t":0.0184},{"v":-20.5,"t":0.05},{"v":-17.6,"t":-0.0193},{"v":-13.5,"t":0.0184},{"v":-10.6,"t":0.0123},{"v":-7.3,"t":0.0334},{"v":-4.9,"t":0.0485},{"v":-2.4,"t":0.0395},{"v":0,"t":-0.0245},{"v":3.3,"t":0.0319},{"v":5.8,"t":0.0048},{"v":9,"t":0.0244},{"v":12.3,"t":0.0123},{"v":15,"t":-0.0125},{"v":18.5,"t":0.0199},{"v":21.4,"t":-0.0012},{"v":24.6,"t":0.0003},{"v":28,"t":0.047},{"v":30.8,"t":0.0515},{"v":33.7,"t":0.0907},{"v":36.5,"t":0.059},{"v":39.4,"t":0.0877},{"v":42,"t":0.056},{"v":45,"t":0.0982},{"v":48,"t":0.0666},{"v":51,"t":0.0997},{"v":54,"t":0.0575},{"v":57.4,"t":0.0982},{"v":60,"t":0.0575},{"v":63,"t":0.1057},{"v":65.6,"t":0.1366},{"v":68.5,"t":0.0877},{"v":71.4,"t":0.0515},{"v":74.6,"t":0.0997},{"v":78,"t":0.0846},{"v":80.8,"t":0.0485},{"v":83.7,"t":0.0696},{"v":87,"t":0.0395},{"v":90,"t":0.0108},{"v":94,"t":0.0274},{"v":97,"t":0.0425},{"v":100,"t":0.0259},{"v":103,"t":0.0364},{"v":106.6,"t":-0.0042},{"v":109.5,"t":0.0485},{"v":112.4,"t":0.0319},{"v":115.6,"t":0.0756},{"v":119,"t":0.0244},{"v":123,"t":0.038},{"v":127,"t":0.0274},{"v":130.8,"t":-0.0042},{"v":134,"t":0.0319},{"v":137,"t":-0.0268},{"v":139.4,"t":-0.0223},{"v":142.3,"t":0.053},{"v":145,"t":-0.0027},{"v":148.5,"t":0.038},{"v":152.5,"t":0.0523},{"v":156.7,"t":-0.0238},{"v":160,"t":0.0696},{"v":163,"t":0.0003},{"v":168,"t":0.0756},{"v":172,"t":0.0123},{"v":176,"t":0.0274},{"v":181,"t":-0.0178},{"v":184.5,"t":0.041},{"v":188.6,"t":0.0048},{"v":193.5,"t":0.0274},{"v":197,"t":-0.02},{"v":200,"t":0.0334},{"v":205,"t":-0.0102},{"v":210,"t":0.0334},{"v":214,"t":0.0199},{"v":220,"t":0.0666},{"v":224.7,"t":0.0123},{"v":228.8,"t":0.0425},{"v":233.7,"t":0.0033},{"v":237.8,"t":-0.0087},{"v":242,"t":0.0018},{"v":246,"t":0.044},{"v":250,"t":-0.0027},{"v":253,"t":0.0304},{"v":257,"t":-0.0072},{"v":262.4,"t":-0.0404},{"v":265.3,"t":0.0319},{"v":269.4,"t":0.0312},{"v":272,"t":0.035},{"v":275.5,"t":0.0244},{"v":280,"t":0.0056}],
"m6":[{"v":-280,"t":0},{"v":-159,"t":0},{"v":-142.6,"t":0.0018},{"v":-126,"t":0.0078},{"v":-110,"t":0.0229},{"v":-93.4,"t":0.0455},{"v":-81,"t":0.0605},{"v":-71,"t":0.0666},{"v":-56.5,"t":0.056},{"v":-44,"t":0.041},{"v":-34,"t":0.0337},{"v":-19.6,"t":0.0425},{"v":-7.3,"t":0.0473},{"v":5,"t":0.0462},{"v":17,"t":0.0515},{"v":29.6,"t":0.056},{"v":37.8,"t":0.0575},{"v":50,"t":0.0726},{"v":58,"t":0.0861},{"v":68.5,"t":0.0922},{"v":78.8,"t":0.0816},{"v":91,"t":0.053},{"v":103,"t":0.0229},{"v":115.7,"t":0.0071},{"v":126,"t":0.007},{"v":136,"t":0.0075},{"v":148.5,"t":0.0033},{"v":161,"t":0.0006},{"v":173,"t":0},{"v":280,"t":0}],
"b7":[{"v":-280,"t":-0.038},{"v":-278.4,"t":-0.0069},{"v":-275.6,"t":0.0108},{"v":-273.3,"t":0.0235},{"v":-271.3,"t":0.001},{"v":-268.5,"t":-0.0157},{"v":-265.7,"t":-0.0088},{"v":-263.4,"t":-0.0098},{"v":-260.2,"t":-0.055},{"v":-258,"t":-0.052},{"v":-254.7,"t":0.0186},{"v":-252.3,"t":-0.0049},{"v":-249,"t":-0.0108},{"v":-244.8,"t":0.0167},{"v":-242,"t":-0.001},{"v":-238.8,"t":0.0157},{"v":-235.6,"t":0.0088},{"v":-233.3,"t":-0.0088},{"v":-228.5,"t":0.0598},{"v":-225.3,"t":0.0167},{"v":-223,"t":-0.001},{"v":-218.2,"t":0.0647},{"v":-215,"t":0.0088},{"v":-211.9,"t":-0.0284},{"v":-208.7,"t":0},{"v":-206.3,"t":-0.0304},{"v":-201.2,"t":0.0127},{"v":-198.4,"t":0.0039},{"v":-195.2,"t":0.0088},{"v":-192.9,"t":0.0186},{"v":-190.5,"t":0.0118},{"v":-185.3,"t":0.0422},{"v":-182.2,"t":0.0206},{"v":-178.6,"t":0.05},{"v":-175.4,"t":0.0353},{"v":-171.5,"t":0.0127},{"v":-167.5,"t":0.0186},{"v":-164.4,"t":0.0157},{"v":-162.8,"t":0.0275},{"v":-159.6,"t":0.0314},{"v":-156.4,"t":0.0206},{"v":-153.7,"t":0.0235},{"v":-150.9,"t":0.0167},{"v":-147.7,"t":0.0284},{"v":-145,"t":0.0206},{"v":-142.2,"t":0.002},{"v":-139,"t":0.0618},{"v":-135.8,"t":0.0314},{"v":-132.7,"t":0.0441},{"v":-130.3,"t":0.0422},{"v":-127.1,"t":0.0833},{"v":-124,"t":0.0363},{"v":-120.8,"t":0.0647},{"v":-118,"t":0.0539},{"v":-116,"t":0.0677},{"v":-113.7,"t":0.0422},{"v":-110,"t":0.0912},{"v":-107.3,"t":0.1334},{"v":-104.2,"t":0.0755},{"v":-101.8,"t":0.052},{"v":-99,"t":0.0775},{"v":-96.2,"t":0.0755},{"v":-93.9,"t":0.052},{"v":-90.7,"t":0.0206},{"v":-87.5,"t":0.0137},{"v":-83.6,"t":0.0912},{"v":-79.6,"t":0.05},{"v":-75.6,"t":0.1137},{"v":-73.7,"t":0.103},{"v":-71.7,"t":0.1088},{"v":-68.5,"t":0.0637},{"v":-64.6,"t":0.0824},{"v":-60.6,"t":0.0461},{"v":-57.8,"t":0.0559},{"v":-55.4,"t":0.05},{"v":-52.7,"t":0.0569},{"v":-50.3,"t":0.0284},{"v":-46.7,"t":0.0912},{"v":-43.6,"t":0.0343},{"v":-40.8,"t":0.0275},{"v":-36.8,"t":0.0157},{"v":-34,"t":0.0157},{"v":-31.3,"t":0.0716},{"v":-28,"t":0.0402},{"v":-25,"t":0.103},{"v":-22.2,"t":0.1069},{"v":-19,"t":0.1196},{"v":-15,"t":0.0853},{"v":-11,"t":0.1353},{"v":-8.3,"t":0.103},{"v":-5,"t":0.0598},{"v":-1.2,"t":0.0912},{"v":2.8,"t":0.0304},{"v":6.7,"t":0.0745},{"v":9,"t":0.0696},{"v":12.3,"t":0.0843},{"v":15.4,"t":0.0471},{"v":21.4,"t":0.1706},{"v":26.5,"t":0.048},{"v":30.5,"t":0.1186},{"v":34.5,"t":0.0814},{"v":39.2,"t":0.1383},{"v":42.4,"t":0.148},{"v":46.3,"t":0.0873},{"v":49,"t":0.1235},{"v":52.3,"t":0.0961},{"v":55,"t":0.1324},{"v":59,"t":0.1745},{"v":63,"t":0.1265},{"v":66,"t":0.1069},{"v":70,"t":0.15},{"v":74,"t":0.1628},{"v":78,"t":0.1245},{"v":81.2,"t":0.0951},{"v":84.8,"t":0.0559},{"v":88,"t":0.0637},{"v":90.7,"t":0.0284},{"v":94.7,"t":-0.0049},{"v":98.6,"t":0.0598},{"v":101.8,"t":0.0324},{"v":105,"t":0.0049},{"v":109,"t":0.0235},{"v":111.7,"t":0.0225},{"v":113.7,"t":0.001},{"v":117.6,"t":0.0186},{"v":120.8,"t":0.0373},{"v":124.4,"t":0.0039},{"v":127.5,"t":0.0363},{"v":131.9,"t":0.0137},{"v":136.6,"t":0.0647},{"v":139.8,"t":0.0422},{"v":143,"t":0.05},{"v":145.3,"t":0.0069},{"v":149.3,"t":-0.0255},{"v":153.3,"t":0.0118},{"v":156.4,"t":0.001},{"v":160.4,"t":0.0343},{"v":163.2,"t":0.0578},{"v":166,"t":0.052},{"v":169,"t":0.0657},{"v":172.3,"t":0.0412},{"v":175,"t":0.05},{"v":179,"t":-0.0069},{"v":183,"t":0.0157},{"v":185.7,"t":0.052},{"v":189.7,"t":0.0127},{"v":196.8,"t":-0.0373},{"v":200.8,"t":-0.0069},{"v":204.8,"t":0.0284},{"v":208.7,"t":0.0088},{"v":212.7,"t":0.0343},{"v":217.4,"t":0.0441},{"v":220.6,"t":0.0088},{"v":225.3,"t":-0.0196},{"v":229.3,"t":0.048},{"v":235.6,"t":-0.0422},{"v":239.6,"t":0.0088},{"v":243.6,"t":0.0353},{"v":248.3,"t":-0.0324},{"v":252.3,"t":0.0265},{"v":256.2,"t":0.0392},{"v":259.4,"t":-0.0108},{"v":262.2,"t":0.049},{"v":266,"t":-0.0226},{"v":272,"t":0.0167},{"v":276,"t":0.0431},{"v":280,"t":0.001}],
"m7":[{"v":-280,"t":0},{"v":-167.5,"t":0},{"v":-151.7,"t":0.001},{"v":-139.8,"t":0.0049},{"v":-124,"t":0.0225},{"v":-108,"t":0.05},{"v":-92.3,"t":0.0833},{"v":-80.4,"t":0.107},{"v":-73.7,"t":0.1167},{"v":-60.6,"t":0.105},{"v":-48.7,"t":0.0814},{"v":-36,"t":0.0647},{"v":-23,"t":0.0833},{"v":-10,"t":0.0996},{"v":2.8,"t":0.094},{"v":14.7,"t":0.101},{"v":24.6,"t":0.1088},{"v":36.4,"t":0.1098},{"v":46.3,"t":0.1265},{"v":56,"t":0.158},{"v":65.3,"t":0.1696},{"v":76,"t":0.157},{"v":88,"t":0.095},{"v":99.8,"t":0.0382},{"v":109.7,"t":0.0167},{"v":121.6,"t":0.0098},{"v":133.5,"t":0.0098},{"v":145.3,"t":0.0039},{"v":157.2,"t":0.0004},{"v":169,"t":0},{"v":280,"t":0}],
"b8":[{"v":-280,"t":0.0004},{"v":-278.6,"t":0.0019},{"v":-275.8,"t":0.0029},{"v":-272.6,"t":0.0027},{"v":-269.8,"t":-0.0015},{"v":-267,"t":-0.0033},{"v":-264,"t":-0.0029},{"v":-260.7,"t":0.0006},{"v":-258,"t":0.0006},{"v":-254,"t":0.0035},{"v":-250.8,"t":0.0021},{"v":-248,"t":0.001},{"v":-244.8,"t":-0.0019},{"v":-242,"t":-0.0023},{"v":-239.3,"t":-0.0029},{"v":-236,"t":-0.0006},{"v":-232,"t":0.0027},{"v":-229,"t":0.0048},{"v":-225.8,"t":0.0056},{"v":-222.6,"t":0.0019},{"v":-220,"t":-0.001},{"v":-217,"t":-0.0015},{"v":-214,"t":-0.0004},{"v":-211.5,"t":-0.0029},{"v":-208.3,"t":-0.0019},{"v":-203.6,"t":0.0023},{"v":-200.4,"t":0.001},{"v":-197.2,"t":0.0015},{"v":-193.3,"t":0.0029},{"v":-189.3,"t":-0.0027},{"v":-186.5,"t":0.001},{"v":-183.3,"t":0.0019},{"v":-180.6,"t":-0.0025},{"v":-177.4,"t":0.001},{"v":-173.8,"t":0.0015},{"v":-170.6,"t":-0.0027},{"v":-167.9,"t":0.0023},{"v":-164.7,"t":0.0033},{"v":-160.7,"t":0.0046},{"v":-157.5,"t":0.0023},{"v":-154.8,"t":0.005},{"v":-152,"t":0.0035},{"v":-149.6,"t":0.005},{"v":-146.4,"t":0.0019},{"v":-142,"t":0.0002},{"v":-139,"t":0.004},{"v":-136,"t":0.0056},{"v":-133,"t":0.0048},{"v":-130,"t":0.0031},{"v":-127,"t":0.0019},{"v":-123.8,"t":0.0056},{"v":-121,"t":0.0052},{"v":-117,"t":0.0077},{"v":-113,"t":0.0081},{"v":-109,"t":0.0081},{"v":-106,"t":0.0129},{"v":-102,"t":0.0127},{"v":-98.8,"t":0.0115},{"v":-96.4,"t":0.019},{"v":-93.3,"t":0.016},{"v":-90,"t":0.0169},{"v":-86.9,"t":0.0123},{"v":-84,"t":0.0131},{"v":-81.3,"t":0.0106},{"v":-78,"t":0.0123},{"v":-75,"t":0.0135},{"v":-71.4,"t":0.0169},{"v":-68.6,"t":0.021},{"v":-65.5,"t":0.0229},{"v":-63,"t":0.021},{"v":-60.3,"t":0.0219},{"v":-56.7,"t":0.0165},{"v":-53.6,"t":0.016},{"v":-50.4,"t":0.0102},{"v":-47.6,"t":0.0069},{"v":-43.7,"t":0.0106},{"v":-37.7,"t":0.0138},{"v":-34.5,"t":0.0115},{"v":-31.7,"t":0.01},{"v":-28.6,"t":0.011},{"v":-25.4,"t":0.0138},{"v":-21.8,"t":0.0081},{"v":-17.9,"t":0.016},{"v":-13.9,"t":0.0177},{"v":-10.7,"t":0.0169},{"v":-7.5,"t":0.0181},{"v":-4,"t":0.0202},{"v":0,"t":0.0173},{"v":2.8,"t":0.0202},{"v":6,"t":0.0219},{"v":9,"t":0.0173},{"v":12,"t":0.0177},{"v":14.7,"t":0.0206},{"v":18,"t":0.0185},{"v":20.6,"t":0.0173},{"v":23.8,"t":0.0194},{"v":26.6,"t":0.0177},{"v":29.8,"t":0.0202},{"v":33,"t":0.019},{"v":35.7,"t":0.0221},{"v":39,"t":0.021},{"v":42.5,"t":0.0235},{"v":45.6,"t":0.0273},{"v":48.8,"t":0.0294},{"v":51.6,"t":0.0317},{"v":54.8,"t":0.0298},{"v":57.5,"t":0.0277},{"v":61.5,"t":0.0221},{"v":64.7,"t":0.0277},{"v":67.9,"t":0.0285},{"v":71.4,"t":0.0352},{"v":75.4,"t":0.039},{"v":79.4,"t":0.0273},{"v":83.3,"t":0.029},{"v":87.3,"t":0.0235},{"v":90,"t":0.0252},{"v":93.3,"t":0.016},{"v":98,"t":0.0081},{"v":101,"t":0.0081},{"v":103.6,"t":0.0121},{"v":107,"t":0.0081},{"v":111,"t":0.0085},{"v":116,"t":0.0115},{"v":121,"t":0.0052},{"v":126,"t":0.001},{"v":129.8,"t":0.0035},{"v":133,"t":0.0077},{"v":136,"t":0.011},{"v":139,"t":0.0081},{"v":142,"t":0.0094},{"v":145,"t":0.0077},{"v":147.6,"t":0.0108},{"v":150.8,"t":0.0069},{"v":154.8,"t":0.0065},{"v":158.7,"t":0.006},{"v":162.7,"t":0.0063},{"v":165.9,"t":0.0031},{"v":169.4,"t":0.0065},{"v":172.6,"t":0.006},{"v":175.4,"t":0.0029},{"v":179.4,"t":0.006},{"v":182.5,"t":0.0056},{"v":186.5,"t":0.0065},{"v":189.3,"t":0.0073},{"v":192.5,"t":0.0081},{"v":195.6,"t":0.0117},{"v":198.8,"t":0.006},{"v":202.4,"t":0.0029},{"v":205,"t":0.004},{"v":210.3,"t":0.0006},{"v":214.3,"t":0.0035},{"v":218.3,"t":0.0094},{"v":221.4,"t":0.009},{"v":225,"t":0.004},{"v":229,"t":0.006},{"v":233,"t":0.0063},{"v":237,"t":0.0073},{"v":240,"t":0.0079},{"v":244,"t":0.0085},{"v":248,"t":0.0063},{"v":252,"t":0.0077},{"v":256,"t":0.0085},{"v":260,"t":0.0044},{"v":264.7,"t":0.0029},{"v":269.8,"t":0.0071},{"v":275,"t":0.0025},{"v":279,"t":0.0058},{"v":280,"t":0.006}],
"m8":[{"v":-280,"t":0},{"v":-168.7,"t":0},{"v":-152.8,"t":0.0002},{"v":-141,"t":0.0006},{"v":-127,"t":0.0021},{"v":-113,"t":0.0077},{"v":-101,"t":0.0127},{"v":-89,"t":0.0169},{"v":-73.4,"t":0.0202},{"v":-57.5,"t":0.0169},{"v":-45.6,"t":0.0127},{"v":-33,"t":0.0103},{"v":-21.8,"t":0.0131},{"v":-10,"t":0.0161},{"v":4,"t":0.0156},{"v":15.9,"t":0.0173},{"v":25.8,"t":0.0181},{"v":37.7,"t":0.019},{"v":47.6,"t":0.0223},{"v":57.5,"t":0.0285},{"v":67.5,"t":0.0308},{"v":77.4,"t":0.0273},{"v":87.3,"t":0.019},{"v":97.2,"t":0.0094},{"v":107,"t":0.0048},{"v":115,"t":0.0042},{"v":125,"t":0.0073},{"v":135,"t":0.0098},{"v":145,"t":0.0073},{"v":156.7,"t":0.0019},{"v":168.7,"t":0.0002},{"v":176.6,"t":0},{"v":280,"t":0}],
"b9":[{"v":-280,"t":0.0555},{"v":-277.5,"t":0.0467},{"v":-275,"t":0.0741},{"v":-272.6,"t":0.0599},{"v":-270,"t":0.0248},{"v":-268,"t":0.0357},{"v":-265,"t":0.0138},{"v":-262.4,"t":0.0522},{"v":-260,"t":0.0489},{"v":-257,"t":0.0007},{"v":-254.6,"t":0.0248},{"v":-251.7,"t":0.0182},{"v":-249.7,"t":-0.0081},{"v":-246.8,"t":-0.0257},{"v":-244,"t":0.0346},{"v":-240.7,"t":0.027},{"v":-237.8,"t":-0.0355},{"v":-235,"t":0.0182},{"v":-232.5,"t":0.0018},{"v":-229,"t":0.0664},{"v":-226,"t":0.073},{"v":-223.5,"t":0.0686},{"v":-220,"t":0.0314},{"v":-217.8,"t":0.0555},{"v":-215,"t":-0.0257},{"v":-212,"t":0.0029},{"v":-209,"t":0.0281},{"v":-206.7,"t":-0.0059},{"v":-204,"t":0.005},{"v":-201,"t":-0.0279},{"v":-198,"t":0.0039},{"v":-195.7,"t":-0.0311},{"v":-192.4,"t":-0.0059},{"v":-188.7,"t":-0.018},{"v":-185.8,"t":0.0138},{"v":-182.6,"t":0.0007},{"v":-180,"t":0.0259},{"v":-177.2,"t":-0.0015},{"v":-174,"t":0.0906},{"v":-171,"t":0.0094},{"v":-167.5,"t":0.0489},{"v":-165.4,"t":0.0248},{"v":-163,"t":0.0226},{"v":-159.6,"t":-0.056},{"v":-156.4,"t":-0.056},{"v":-151.9,"t":0.0719},{"v":-148.6,"t":0.0138},{"v":-145.3,"t":-0.0103},{"v":-142.5,"t":-0.0421},{"v":-139.2,"t":-0.0059},{"v":-136,"t":0.0379},{"v":-133,"t":-0.0015},{"v":-130,"t":0.0204},{"v":-127,"t":0.0785},{"v":-124,"t":0.0379},{"v":-120.3,"t":-0.0224},{"v":-117,"t":-0.0059},{"v":-113.8,"t":-0.0268},{"v":-110.5,"t":0.0774},{"v":-107.2,"t":-0.0257},{"v":-104.4,"t":0.005},{"v":-101.5,"t":0.0533},{"v":-98.2,"t":0.0029},{"v":-95,"t":-0.0169},{"v":-92,"t":0.0412},{"v":-89.2,"t":0.0094},{"v":-86,"t":0.0215},{"v":-82.7,"t":0.0412},{"v":-80.2,"t":0.0379},{"v":-77,"t":0.0796},{"v":-74.5,"t":0.0686},{"v":-72.5,"t":0.0796},{"v":-68.8,"t":-0.0048},{"v":-65.9,"t":0.0401},{"v":-63,"t":0.016},{"v":-59.8,"t":0.0686},{"v":-55.7,"t":-0.0311},{"v":-52.4,"t":-0.0048},{"v":-49.5,"t":0.0248},{"v":-46.3,"t":0.1169},{"v":-43.4,"t":0.0577},{"v":-40,"t":0.1048},{"v":-36.8,"t":0.073},{"v":-33.6,"t":0.0697},{"v":-30.7,"t":0.1037},{"v":-27.8,"t":0.0599},{"v":-25.8,"t":0.0664},{"v":-23,"t":0.027},{"v":-20.5,"t":0.0401},{"v":-17.6,"t":0.1037},{"v":-14.7,"t":0.0335},{"v":-11.5,"t":0.0938},{"v":-7.4,"t":-0.0158},{"v":-4.5,"t":0.0467},{"v":-2.5,"t":0.1432},{"v":0.8,"t":0.084},{"v":3.3,"t":0.084},{"v":6,"t":0.0719},{"v":8,"t":0.0774},{"v":10.6,"t":0.084},{"v":13,"t":0.0774},{"v":15.6,"t":0.0928},{"v":18,"t":0.0686},{"v":21.3,"t":0.0818},{"v":24.6,"t":0.1125},{"v":27,"t":0.1037},{"v":28.7,"t":0.1235},{"v":31.1,"t":0.0818},{"v":34.4,"t":0.084},{"v":37.7,"t":0.0818},{"v":40,"t":0.0204},{"v":42.6,"t":0.0796},{"v":45,"t":0.0862},{"v":48,"t":0.1125},{"v":50.8,"t":0.095},{"v":54,"t":0.1158},{"v":57,"t":0.1081},{"v":60.2,"t":0.1893},{"v":63,"t":0.1542},{"v":66.3,"t":0.1871},{"v":69.6,"t":0.1059},{"v":72.9,"t":0.1213},{"v":75.3,"t":0.1279},{"v":77.8,"t":0.0906},{"v":79.8,"t":0.1421},{"v":82.7,"t":0.0643},{"v":86,"t":0.0752},{"v":88.8,"t":0.0467},{"v":90.9,"t":0.0489},{"v":93,"t":0.1026},{"v":95,"t":0.016},{"v":98.2,"t":0.1257},{"v":101.5,"t":0.0555},{"v":105.6,"t":-0.0059},{"v":109.3,"t":0.0467},{"v":112.2,"t":0.0785},{"v":115.4,"t":0.0248},{"v":120,"t":0.1037},{"v":123.6,"t":0.0226},{"v":126.9,"t":0.0686},{"v":129,"t":0.0917},{"v":132.6,"t":0.0379},{"v":136.7,"t":0.1125},{"v":139.2,"t":0.1081},{"v":143.3,"t":0.0555},{"v":146,"t":0.0643},{"v":149,"t":0.027},{"v":152.3,"t":0.0533},{"v":155.5,"t":0.0423},{"v":157.6,"t":0.0763},{"v":160.5,"t":0.0248},{"v":163.7,"t":0.0467},{"v":166.6,"t":0.0193},{"v":170.7,"t":0.0697},{"v":174.8,"t":0.016},{"v":177.6,"t":0.0774},{"v":181.7,"t":0.0029},{"v":184.2,"t":0.0237},{"v":187,"t":-0.0257},{"v":191.2,"t":0.0029},{"v":194,"t":0.0708},{"v":197.3,"t":-0.0081},{"v":201.4,"t":-0.0344},{"v":205.5,"t":0.0686},{"v":209.6,"t":0.0599},{"v":211.6,"t":0.0379},{"v":214.5,"t":0.0489},{"v":217.8,"t":-0.0059},{"v":221.9,"t":-0.0158},{"v":225,"t":0.0182},{"v":228.4,"t":0.0039},{"v":232,"t":0.0489},{"v":235,"t":0.0686},{"v":238.2,"t":0.027},{"v":241.5,"t":-0.0191},{"v":244.4,"t":0.0643},{"v":247.2,"t":0.0379},{"v":250.5,"t":0.0248},{"v":254.6,"t":0.0423},{"v":257.5,"t":-0.0125},{"v":260.7,"t":-0.056},{"v":262.8,"t":0.0434},{"v":266,"t":0.0248},{"v":269,"t":0.016},{"v":271.8,"t":-0.0059},{"v":275,"t":0.0566},{"v":280,"t":0.0094}],
"m9":[{"v":-280,"t":0},{"v":-163,"t":0},{"v":-146.5,"t":0.0018},{"v":-130,"t":0.0094},{"v":-113.8,"t":0.028},{"v":-97.4,"t":0.053},{"v":-83,"t":0.073},{"v":-72.9,"t":0.0792},{"v":-60.6,"t":0.0708},{"v":-48.3,"t":0.0511},{"v":-34,"t":0.0401},{"v":-21.7,"t":0.0489},{"v":-11.5,"t":0.0555},{"v":0.8,"t":0.0537},{"v":11,"t":0.0588},{"v":23.3,"t":0.0654},{"v":35.6,"t":0.0675},{"v":45.8,"t":0.0818},{"v":56,"t":0.0971},{"v":65.5,"t":0.1053},{"v":76.5,"t":0.0928},{"v":86.8,"t":0.0599},{"v":97,"t":0.027},{"v":107,"t":0.0105},{"v":117.5,"t":0.0061},{"v":131.8,"t":0.005},{"v":144,"t":0.0029},{"v":156,"t":0.0007},{"v":168.6,"t":0},{"v":280,"t":0}]
},
"concat":[
{"width":650,"height":488,
 "title":{"text":"¹²CO 5-4","anchor":"start","frame":"group","orient":"top","offset":0,"dx":37,"dy":122,"baseline":"alphabetic"},
 "layer":[
  {"data":{"name":"b1"},"mark":{"type":"line","color":"#000","strokeWidth":1.8,"interpolate":"monotone","clip":true},
   "encoding":{"x":{"field":"v","type":"quantitative","scale":{"domain":[-280,280],"nice":false},"axis":{"orient":"bottom","title":null,"values":[-280,-260,-240,-220,-200,-180,-160,-140,-120,-100,-80,-60,-40,-20,0,20,40,60,80,100,120,140,160,180,200,220,240,260,280],"tickSize":-15,"labels":false}},
   "y":{"field":"t","type":"quantitative","scale":{"domain":[-0.02,0.11],"nice":false,"zero":false},"axis":{"orient":"left","title":null,"values":[-0.02,-0.015,-0.01,-0.005,0,0.005,0.01,0.015,0.02,0.025,0.03,0.035,0.04,0.045,0.05,0.055,0.06,0.065,0.07,0.075,0.08,0.085,0.09,0.095,0.1,0.105],"format":".2f","labelPadding":25,"tickSize":{"condition":{"test":"indexof([-0.02,0,0.02,0.04,0.06,0.08,0.1],datum.value)>=0","value":-16},"value":-7},"labelExpr":"indexof([-0.02,0,0.02,0.04,0.06,0.08,0.1],datum.value)>=0 ? replace(datum.label,'\u2212','-') : ''"}}}},
  {"data":{"name":"m1"},"mark":{"type":"line","color":"#f00","strokeWidth":3.5,"interpolate":"monotone","clip":true},
   "encoding":{"x":{"field":"v","type":"quantitative","scale":{"domain":[-280,280],"nice":false},"axis":{"orient":"top","title":null,"values":[-280,-260,-240,-220,-200,-180,-160,-140,-120,-100,-80,-60,-40,-20,0,20,40,60,80,100,120,140,160,180,200,220,240,260,280],"tickSize":-15,"labels":false}},
   "y":{"field":"t","type":"quantitative","scale":{"domain":[-0.02,0.11],"nice":false,"zero":false},"axis":{"orient":"right","title":null,"values":[-0.02,-0.015,-0.01,-0.005,0,0.005,0.01,0.015,0.02,0.025,0.03,0.035,0.04,0.045,0.05,0.055,0.06,0.065,0.07,0.075,0.08,0.085,0.09,0.095,0.1,0.105],"labels":false,"tickSize":{"condition":{"test":"indexof([-0.02,0,0.02,0.04,0.06,0.08,0.1],datum.value)>=0","value":-16},"value":-7}}}}}
 ],
 "resolve":{"axis":{"x":"independent","y":"independent"}}},
{"width":650,"height":488,
 "title":{"text":"¹²CO 8-7","anchor":"start","frame":"group","orient":"top","offset":0,"dx":37,"dy":122,"baseline":"alphabetic"},
 "layer":[
  {"data":{"name":"b2"},"mark":{"type":"line","color":"#000","strokeWidth":1.8,"interpolate":"monotone","clip":true},
   "encoding":{"x":{"field":"v","type":"quantitative","scale":{"domain":[-280,280],"nice":false},"axis":{"orient":"bottom","title":null,"values":[-280,-260,-240,-220,-200,-180,-160,-140,-120,-100,-80,-60,-40,-20,0,20,40,60,80,100,120,140,160,180,200,220,240,260,280],"tickSize":-15,"labels":false}},
   "y":{"field":"t","type":"quantitative","scale":{"domain":[-0.1,0.3],"nice":false,"zero":false},"axis":{"orient":"left","title":null,"values":[-0.1,-0.09,-0.08,-0.07,-0.06,-0.05,-0.04,-0.03,-0.02,-0.01,0,0.01,0.02,0.03,0.04,0.05,0.06,0.07,0.08,0.09,0.1,0.11,0.12,0.13,0.14,0.15,0.16,0.17,0.18,0.19,0.2,0.21,0.22,0.23,0.24,0.25,0.26,0.27,0.28,0.29,0.3],"format":".2f","labelPadding":25,"tickSize":{"condition":{"test":"indexof([-0.1,-0.05,0,0.05,0.1,0.15,0.2,0.25,0.3],datum.value)>=0","value":-16},"value":-7},"labelExpr":"indexof([-0.1,-0.05,0,0.05,0.1,0.15,0.2,0.25,0.3],datum.value)>=0 ? replace(datum.label,'\u2212','-') : ''"}}}},
  {"data":{"name":"m2"},"mark":{"type":"line","color":"#f00","strokeWidth":3.5,"interpolate":"monotone","clip":true},
   "encoding":{"x":{"field":"v","type":"quantitative","scale":{"domain":[-280,280],"nice":false},"axis":{"orient":"top","title":null,"values":[-280,-260,-240,-220,-200,-180,-160,-140,-120,-100,-80,-60,-40,-20,0,20,40,60,80,100,120,140,160,180,200,220,240,260,280],"tickSize":-15,"labels":false}},
   "y":{"field":"t","type":"quantitative","scale":{"domain":[-0.1,0.3],"nice":false,"zero":false},"axis":{"orient":"right","title":null,"values":[-0.1,-0.09,-0.08,-0.07,-0.06,-0.05,-0.04,-0.03,-0.02,-0.01,0,0.01,0.02,0.03,0.04,0.05,0.06,0.07,0.08,0.09,0.1,0.11,0.12,0.13,0.14,0.15,0.16,0.17,0.18,0.19,0.2,0.21,0.22,0.23,0.24,0.25,0.26,0.27,0.28,0.29,0.3],"labels":false,"tickSize":{"condition":{"test":"indexof([-0.1,-0.05,0,0.05,0.1,0.15,0.2,0.25,0.3],datum.value)>=0","value":-16},"value":-7}}}}}
 ],
 "resolve":{"axis":{"x":"independent","y":"independent"}}},
{"width":650,"height":488,
 "title":{"text":"¹³CO 6-5","anchor":"start","frame":"group","orient":"top","offset":0,"dx":37,"dy":122,"baseline":"alphabetic"},
 "layer":[
  {"data":{"name":"b3"},"mark":{"type":"line","color":"#000","strokeWidth":1.8,"interpolate":"monotone","clip":true},
   "encoding":{"x":{"field":"v","type":"quantitative","scale":{"domain":[-280,280],"nice":false},"axis":{"orient":"bottom","title":null,"values":[-280,-260,-240,-220,-200,-180,-160,-140,-120,-100,-80,-60,-40,-20,0,20,40,60,80,100,120,140,160,180,200,220,240,260,280],"tickSize":-15,"labels":false}},
   "y":{"field":"t","type":"quantitative","scale":{"domain":[-0.03,0.09],"nice":false,"zero":false},"axis":{"orient":"left","title":null,"values":[-0.03,-0.025,-0.02,-0.015,-0.01,-0.005,0,0.005,0.01,0.015,0.02,0.025,0.03,0.035,0.04,0.045,0.05,0.055,0.06,0.065,0.07,0.075,0.08,0.085,0.09],"format":".2f","labelPadding":25,"tickSize":{"condition":{"test":"indexof([-0.02,0,0.02,0.04,0.06,0.08],datum.value)>=0","value":-16},"value":-7},"labelExpr":"indexof([-0.02,0,0.02,0.04,0.06,0.08],datum.value)>=0 ? replace(datum.label,'\u2212','-') : ''"}}}},
  {"data":{"name":"m3"},"mark":{"type":"line","color":"#f00","strokeWidth":3.5,"interpolate":"monotone","clip":true},
   "encoding":{"x":{"field":"v","type":"quantitative","scale":{"domain":[-280,280],"nice":false},"axis":{"orient":"top","title":null,"values":[-280,-260,-240,-220,-200,-180,-160,-140,-120,-100,-80,-60,-40,-20,0,20,40,60,80,100,120,140,160,180,200,220,240,260,280],"tickSize":-15,"labels":false}},
   "y":{"field":"t","type":"quantitative","scale":{"domain":[-0.03,0.09],"nice":false,"zero":false},"axis":{"orient":"right","title":null,"values":[-0.03,-0.025,-0.02,-0.015,-0.01,-0.005,0,0.005,0.01,0.015,0.02,0.025,0.03,0.035,0.04,0.045,0.05,0.055,0.06,0.065,0.07,0.075,0.08,0.085,0.09],"labels":false,"tickSize":{"condition":{"test":"indexof([-0.02,0,0.02,0.04,0.06,0.08],datum.value)>=0","value":-16},"value":-7}}}}}
 ],
 "resolve":{"axis":{"x":"independent","y":"independent"}}},
{"width":650,"height":488,
 "title":{"text":"¹²CO 6-5","anchor":"start","frame":"group","orient":"top","offset":0,"dx":37,"dy":122,"baseline":"alphabetic"},
 "layer":[
  {"data":{"name":"b4"},"mark":{"type":"line","color":"#000","strokeWidth":1.8,"interpolate":"monotone","clip":true},
   "encoding":{"x":{"field":"v","type":"quantitative","scale":{"domain":[-280,280],"nice":false},"axis":{"orient":"bottom","title":null,"values":[-280,-260,-240,-220,-200,-180,-160,-140,-120,-100,-80,-60,-40,-20,0,20,40,60,80,100,120,140,160,180,200,220,240,260,280],"tickSize":-15,"labels":false}},
   "y":{"field":"t","type":"quantitative","scale":{"domain":[-0.04,0.16],"nice":false,"zero":false},"axis":{"orient":"left","title":null,"values":[-0.04,-0.03,-0.02,-0.01,0,0.01,0.02,0.03,0.04,0.05,0.06,0.07,0.08,0.09,0.1,0.11,0.12,0.13,0.14,0.15,0.16],"format":".2f","labelPadding":25,"tickSize":{"condition":{"test":"indexof([0,0.05,0.1,0.15],datum.value)>=0","value":-16},"value":-7},"labelExpr":"indexof([0,0.05,0.1,0.15],datum.value)>=0 ? replace(datum.label,'\u2212','-') : ''"}}}},
  {"data":{"name":"m4"},"mark":{"type":"line","color":"#f00","strokeWidth":3.5,"interpolate":"monotone","clip":true},
   "encoding":{"x":{"field":"v","type":"quantitative","scale":{"domain":[-280,280],"nice":false},"axis":{"orient":"top","title":null,"values":[-280,-260,-240,-220,-200,-180,-160,-140,-120,-100,-80,-60,-40,-20,0,20,40,60,80,100,120,140,160,180,200,220,240,260,280],"tickSize":-15,"labels":false}},
   "y":{"field":"t","type":"quantitative","scale":{"domain":[-0.04,0.16],"nice":false,"zero":false},"axis":{"orient":"right","title":null,"values":[-0.04,-0.03,-0.02,-0.01,0,0.01,0.02,0.03,0.04,0.05,0.06,0.07,0.08,0.09,0.1,0.11,0.12,0.13,0.14,0.15,0.16],"labels":false,"tickSize":{"condition":{"test":"indexof([0,0.05,0.1,0.15],datum.value)>=0","value":-16},"value":-7}}}}},
  {"data":{"values":[{}]},"mark":{"type":"text","text":"T","font":"Liberation Serif","fontStyle":"italic","fontSize":38,"angle":270,"align":"left","baseline":"alphabetic","dx":0,"dy":-78,"color":"#000"},
   "encoding":{"x":{"datum":-280,"type":"quantitative","scale":{"domain":[-280,280],"nice":false},"axis":null},"y":{"datum":0.0375,"type":"quantitative","scale":{"domain":[-0.04,0.16],"nice":false,"zero":false},"axis":null}}},
  {"data":{"values":[{}]},"mark":{"type":"text","text":"mb","font":"Liberation Serif","fontSize":22,"angle":270,"align":"left","baseline":"alphabetic","dx":24,"dy":-67,"color":"#000"},
   "encoding":{"x":{"datum":-280,"type":"quantitative","scale":{"domain":[-280,280],"nice":false},"axis":null},"y":{"datum":0.0375,"type":"quantitative","scale":{"domain":[-0.04,0.16],"nice":false,"zero":false},"axis":null}}},
  {"data":{"values":[{}]},"mark":{"type":"text","text":"(K)","font":"Liberation Serif","fontSize":38,"angle":270,"align":"left","baseline":"alphabetic","dx":58,"dy":-78,"color":"#000"},
   "encoding":{"x":{"datum":-280,"type":"quantitative","scale":{"domain":[-280,280],"nice":false},"axis":null},"y":{"datum":0.0375,"type":"quantitative","scale":{"domain":[-0.04,0.16],"nice":false,"zero":false},"axis":null}}}
 ],
 "resolve":{"axis":{"x":"independent","y":"independent"}}},
{"width":650,"height":488,
 "title":{"text":"¹²CO 9-8","anchor":"start","frame":"group","orient":"top","offset":0,"dx":37,"dy":122,"baseline":"alphabetic"},
 "layer":[
  {"data":{"name":"b5"},"mark":{"type":"line","color":"#000","strokeWidth":1.8,"interpolate":"monotone","clip":true},
   "encoding":{"x":{"field":"v","type":"quantitative","scale":{"domain":[-280,280],"nice":false},"axis":{"orient":"bottom","title":null,"values":[-280,-260,-240,-220,-200,-180,-160,-140,-120,-100,-80,-60,-40,-20,0,20,40,60,80,100,120,140,160,180,200,220,240,260,280],"tickSize":-15,"labels":false}},
   "y":{"field":"t","type":"quantitative","scale":{"domain":[-0.2,0.65],"nice":false,"zero":false},"axis":{"orient":"left","title":null,"values":[-0.2,-0.18,-0.16,-0.14,-0.12,-0.1,-0.08,-0.06,-0.04,-0.02,0,0.02,0.04,0.06,0.08,0.1,0.12,0.14,0.16,0.18,0.2,0.22,0.24,0.26,0.28,0.3,0.32,0.34,0.36,0.38,0.4,0.42,0.44,0.46,0.48,0.5,0.52,0.54,0.56,0.58,0.6,0.62,0.64],"format":".1f","labelPadding":25,"tickSize":{"condition":{"test":"indexof([-0.2,-0.1,0,0.1,0.2,0.3,0.4,0.5,0.6],datum.value)>=0","value":-16},"value":-7},"labelExpr":"indexof([-0.2,-0.1,0,0.1,0.2,0.3,0.4,0.5,0.6],datum.value)>=0 ? replace(datum.label,'\u2212','-') : ''"}}}},
  {"data":{"name":"m5"},"mark":{"type":"line","color":"#f00","strokeWidth":3.5,"interpolate":"monotone","clip":true},
   "encoding":{"x":{"field":"v","type":"quantitative","scale":{"domain":[-280,280],"nice":false},"axis":{"orient":"top","title":null,"values":[-280,-260,-240,-220,-200,-180,-160,-140,-120,-100,-80,-60,-40,-20,0,20,40,60,80,100,120,140,160,180,200,220,240,260,280],"tickSize":-15,"labels":false}},
   "y":{"field":"t","type":"quantitative","scale":{"domain":[-0.2,0.65],"nice":false,"zero":false},"axis":{"orient":"right","title":null,"values":[-0.2,-0.18,-0.16,-0.14,-0.12,-0.1,-0.08,-0.06,-0.04,-0.02,0,0.02,0.04,0.06,0.08,0.1,0.12,0.14,0.16,0.18,0.2,0.22,0.24,0.26,0.28,0.3,0.32,0.34,0.36,0.38,0.4,0.42,0.44,0.46,0.48,0.5,0.52,0.54,0.56,0.58,0.6,0.62,0.64],"labels":false,"tickSize":{"condition":{"test":"indexof([-0.2,-0.1,0,0.1,0.2,0.3,0.4,0.5,0.6],datum.value)>=0","value":-16},"value":-7}}}}}
 ],
 "resolve":{"axis":{"x":"independent","y":"independent"}}},
{"width":650,"height":488,
 "title":{"text":"¹³CO 8-7","anchor":"start","frame":"group","orient":"top","offset":0,"dx":37,"dy":122,"baseline":"alphabetic"},
 "layer":[
  {"data":{"name":"b6"},"mark":{"type":"line","color":"#000","strokeWidth":1.8,"interpolate":"monotone","clip":true},
   "encoding":{"x":{"field":"v","type":"quantitative","scale":{"domain":[-280,280],"nice":false},"axis":{"orient":"bottom","title":null,"values":[-280,-260,-240,-220,-200,-180,-160,-140,-120,-100,-80,-60,-40,-20,0,20,40,60,80,100,120,140,160,180,200,220,240,260,280],"tickSize":-15,"labels":false}},
   "y":{"field":"t","type":"quantitative","scale":{"domain":[-0.06,0.16],"nice":false,"zero":false},"axis":{"orient":"left","title":null,"values":[-0.06,-0.05,-0.04,-0.03,-0.02,-0.01,0,0.01,0.02,0.03,0.04,0.05,0.06,0.07,0.08,0.09,0.1,0.11,0.12,0.13,0.14,0.15,0.16],"format":".2f","labelPadding":25,"tickSize":{"condition":{"test":"indexof([-0.05,0,0.05,0.1,0.15],datum.value)>=0","value":-16},"value":-7},"labelExpr":"indexof([-0.05,0,0.05,0.1,0.15],datum.value)>=0 ? replace(datum.label,'\u2212','-') : ''"}}}},
  {"data":{"name":"m6"},"mark":{"type":"line","color":"#f00","strokeWidth":3.5,"interpolate":"monotone","clip":true},
   "encoding":{"x":{"field":"v","type":"quantitative","scale":{"domain":[-280,280],"nice":false},"axis":{"orient":"top","title":null,"values":[-280,-260,-240,-220,-200,-180,-160,-140,-120,-100,-80,-60,-40,-20,0,20,40,60,80,100,120,140,160,180,200,220,240,260,280],"tickSize":-15,"labels":false}},
   "y":{"field":"t","type":"quantitative","scale":{"domain":[-0.06,0.16],"nice":false,"zero":false},"axis":{"orient":"right","title":null,"values":[-0.06,-0.05,-0.04,-0.03,-0.02,-0.01,0,0.01,0.02,0.03,0.04,0.05,0.06,0.07,0.08,0.09,0.1,0.11,0.12,0.13,0.14,0.15,0.16],"labels":false,"tickSize":{"condition":{"test":"indexof([-0.05,0,0.05,0.1,0.15],datum.value)>=0","value":-16},"value":-7}}}}}
 ],
 "resolve":{"axis":{"x":"independent","y":"independent"}}},
{"width":650,"height":488,
 "title":{"text":"¹²CO 7-6","anchor":"start","frame":"group","orient":"top","offset":0,"dx":37,"dy":122,"baseline":"alphabetic"},
 "layer":[
  {"data":{"name":"b7"},"mark":{"type":"line","color":"#000","strokeWidth":1.8,"interpolate":"monotone","clip":true},
   "encoding":{"x":{"field":"v","type":"quantitative","scale":{"domain":[-280,280],"nice":false},"axis":{"orient":"bottom","title":null,"values":[-280,-260,-240,-220,-200,-180,-160,-140,-120,-100,-80,-60,-40,-20,0,20,40,60,80,100,120,140,160,180,200,220,240,260,280],"tickSize":-15,"labelPadding":26,"labelExpr":"datum.value % 100 === 0 ? replace(datum.label,'\u2212','-') : ''"}},
   "y":{"field":"t","type":"quantitative","scale":{"domain":[-0.05,0.2],"nice":false,"zero":false},"axis":{"orient":"left","title":null,"values":[-0.05,-0.04,-0.03,-0.02,-0.01,0,0.01,0.02,0.03,0.04,0.05,0.06,0.07,0.08,0.09,0.1,0.11,0.12,0.13,0.14,0.15,0.16,0.17,0.18,0.19,0.2],"format":".2f","labelPadding":25,"tickSize":{"condition":{"test":"indexof([-0.05,0,0.05,0.1,0.15,0.2],datum.value)>=0","value":-16},"value":-7},"labelExpr":"indexof([-0.05,0,0.05,0.1,0.15,0.2],datum.value)>=0 ? replace(datum.label,'\u2212','-') : ''"}}}},
  {"data":{"name":"m7"},"mark":{"type":"line","color":"#f00","strokeWidth":3.5,"interpolate":"monotone","clip":true},
   "encoding":{"x":{"field":"v","type":"quantitative","scale":{"domain":[-280,280],"nice":false},"axis":{"orient":"top","title":null,"values":[-280,-260,-240,-220,-200,-180,-160,-140,-120,-100,-80,-60,-40,-20,0,20,40,60,80,100,120,140,160,180,200,220,240,260,280],"tickSize":-15,"labels":false}},
   "y":{"field":"t","type":"quantitative","scale":{"domain":[-0.05,0.2],"nice":false,"zero":false},"axis":{"orient":"right","title":null,"values":[-0.05,-0.04,-0.03,-0.02,-0.01,0,0.01,0.02,0.03,0.04,0.05,0.06,0.07,0.08,0.09,0.1,0.11,0.12,0.13,0.14,0.15,0.16,0.17,0.18,0.19,0.2],"labels":false,"tickSize":{"condition":{"test":"indexof([-0.05,0,0.05,0.1,0.15,0.2],datum.value)>=0","value":-16},"value":-7}}}}}
 ],
 "resolve":{"axis":{"x":"independent","y":"independent"}}},
{"width":650,"height":488,
 "title":{"text":"¹³CO 5-4","anchor":"start","frame":"group","orient":"top","offset":0,"dx":37,"dy":122,"baseline":"alphabetic"},
 "layer":[
  {"data":{"name":"b8"},"mark":{"type":"line","color":"#000","strokeWidth":1.8,"interpolate":"monotone","clip":true},
   "encoding":{"x":{"field":"v","type":"quantitative","scale":{"domain":[-280,280],"nice":false},"axis":{"orient":"bottom","title":null,"values":[-280,-260,-240,-220,-200,-180,-160,-140,-120,-100,-80,-60,-40,-20,0,20,40,60,80,100,120,140,160,180,200,220,240,260,280],"tickSize":-15,"labelPadding":26,"labelExpr":"datum.value % 100 === 0 ? replace(datum.label,'\u2212','-') : ''"}},
   "y":{"field":"t","type":"quantitative","scale":{"domain":[-0.005,0.045],"nice":false,"zero":false},"axis":{"orient":"left","title":null,"values":[-0.004,-0.002,0,0.002,0.004,0.006,0.008,0.01,0.012,0.014,0.016,0.018,0.02,0.022,0.024,0.026,0.028,0.03,0.032,0.034,0.036,0.038,0.04,0.042,0.044],"format":".2f","labelPadding":25,"tickSize":{"condition":{"test":"indexof([0,0.01,0.02,0.03,0.04],datum.value)>=0","value":-16},"value":-7},"labelExpr":"indexof([0,0.01,0.02,0.03,0.04],datum.value)>=0 ? replace(datum.label,'\u2212','-') : ''"}}}},
  {"data":{"name":"m8"},"mark":{"type":"line","color":"#f00","strokeWidth":3.5,"interpolate":"monotone","clip":true},
   "encoding":{"x":{"field":"v","type":"quantitative","scale":{"domain":[-280,280],"nice":false},"axis":{"orient":"top","title":null,"values":[-280,-260,-240,-220,-200,-180,-160,-140,-120,-100,-80,-60,-40,-20,0,20,40,60,80,100,120,140,160,180,200,220,240,260,280],"tickSize":-15,"labels":false}},
   "y":{"field":"t","type":"quantitative","scale":{"domain":[-0.005,0.045],"nice":false,"zero":false},"axis":{"orient":"right","title":null,"values":[-0.004,-0.002,0,0.002,0.004,0.006,0.008,0.01,0.012,0.014,0.016,0.018,0.02,0.022,0.024,0.026,0.028,0.03,0.032,0.034,0.036,0.038,0.04,0.042,0.044],"labels":false,"tickSize":{"condition":{"test":"indexof([0,0.01,0.02,0.03,0.04],datum.value)>=0","value":-16},"value":-7}}}}},
  {"data":{"values":[{}]},"mark":{"type":"text","text":"v","font":"Liberation Serif","fontSize":40,"align":"left","baseline":"alphabetic","dx":0,"dy":93,"color":"#000"},
   "encoding":{"x":{"datum":-75.8,"type":"quantitative","scale":{"domain":[-280,280],"nice":false},"axis":null},"y":{"datum":-0.005,"type":"quantitative","scale":{"domain":[-0.005,0.045],"nice":false,"zero":false},"axis":null}}},
  {"data":{"values":[{}]},"mark":{"type":"text","text":"lsr","font":"Liberation Serif","fontSize":24,"align":"left","baseline":"alphabetic","dx":21,"dy":101,"color":"#000"},
   "encoding":{"x":{"datum":-75.8,"type":"quantitative","scale":{"domain":[-280,280],"nice":false},"axis":null},"y":{"datum":-0.005,"type":"quantitative","scale":{"domain":[-0.005,0.045],"nice":false,"zero":false},"axis":null}}},
  {"data":{"values":[{}]},"mark":{"type":"text","text":"(km s","font":"Liberation Serif","fontSize":40,"align":"left","baseline":"alphabetic","dx":55,"dy":93,"color":"#000"},
   "encoding":{"x":{"datum":-75.8,"type":"quantitative","scale":{"domain":[-280,280],"nice":false},"axis":null},"y":{"datum":-0.005,"type":"quantitative","scale":{"domain":[-0.005,0.045],"nice":false,"zero":false},"axis":null}}},
  {"data":{"values":[{}]},"mark":{"type":"text","text":"-1","font":"Liberation Serif","fontSize":22,"align":"left","baseline":"alphabetic","dx":146,"dy":75,"color":"#000"},
   "encoding":{"x":{"datum":-75.8,"type":"quantitative","scale":{"domain":[-280,280],"nice":false},"axis":null},"y":{"datum":-0.005,"type":"quantitative","scale":{"domain":[-0.005,0.045],"nice":false,"zero":false},"axis":null}}},
  {"data":{"values":[{}]},"mark":{"type":"text","text":")","font":"Liberation Serif","fontSize":40,"align":"left","baseline":"alphabetic","dx":165,"dy":93,"color":"#000"},
   "encoding":{"x":{"datum":-75.8,"type":"quantitative","scale":{"domain":[-280,280],"nice":false},"axis":null},"y":{"datum":-0.005,"type":"quantitative","scale":{"domain":[-0.005,0.045],"nice":false,"zero":false},"axis":null}}}
 ],
 "resolve":{"axis":{"x":"independent","y":"independent"}}},
{"width":650,"height":488,
 "title":{"text":"¹³CO 9-8","anchor":"start","frame":"group","orient":"top","offset":0,"dx":37,"dy":122,"baseline":"alphabetic"},
 "layer":[
  {"data":{"name":"b9"},"mark":{"type":"line","color":"#000","strokeWidth":1.8,"interpolate":"monotone","clip":true},
   "encoding":{"x":{"field":"v","type":"quantitative","scale":{"domain":[-280,280],"nice":false},"axis":{"orient":"bottom","title":null,"values":[-280,-260,-240,-220,-200,-180,-160,-140,-120,-100,-80,-60,-40,-20,0,20,40,60,80,100,120,140,160,180,200,220,240,260,280],"tickSize":-15,"labelPadding":26,"labelExpr":"datum.value % 100 === 0 ? replace(datum.label,'\u2212','-') : ''"}},
   "y":{"field":"t","type":"quantitative","scale":{"domain":[-0.05,0.23],"nice":false,"zero":false},"axis":{"orient":"left","title":null,"values":[-0.05,-0.04,-0.03,-0.02,-0.01,0,0.01,0.02,0.03,0.04,0.05,0.06,0.07,0.08,0.09,0.1,0.11,0.12,0.13,0.14,0.15,0.16,0.17,0.18,0.19,0.2,0.21,0.22,0.23],"format":".2f","labelPadding":25,"tickSize":{"condition":{"test":"indexof([-0.05,0,0.05,0.1,0.15,0.2],datum.value)>=0","value":-16},"value":-7},"labelExpr":"indexof([-0.05,0,0.05,0.1,0.15,0.2],datum.value)>=0 ? replace(datum.label,'\u2212','-') : ''"}}}},
  {"data":{"name":"m9"},"mark":{"type":"line","color":"#f00","strokeWidth":3.5,"interpolate":"monotone","clip":true},
   "encoding":{"x":{"field":"v","type":"quantitative","scale":{"domain":[-280,280],"nice":false},"axis":{"orient":"top","title":null,"values":[-280,-260,-240,-220,-200,-180,-160,-140,-120,-100,-80,-60,-40,-20,0,20,40,60,80,100,120,140,160,180,200,220,240,260,280],"tickSize":-15,"labels":false}},
   "y":{"field":"t","type":"quantitative","scale":{"domain":[-0.05,0.23],"nice":false,"zero":false},"axis":{"orient":"right","title":null,"values":[-0.05,-0.04,-0.03,-0.02,-0.01,0,0.01,0.02,0.03,0.04,0.05,0.06,0.07,0.08,0.09,0.1,0.11,0.12,0.13,0.14,0.15,0.16,0.17,0.18,0.19,0.2,0.21,0.22,0.23],"labels":false,"tickSize":{"condition":{"test":"indexof([-0.05,0,0.05,0.1,0.15,0.2],datum.value)>=0","value":-16},"value":-7}}}}}
 ],
 "resolve":{"axis":{"x":"independent","y":"independent"}}}
]
}
